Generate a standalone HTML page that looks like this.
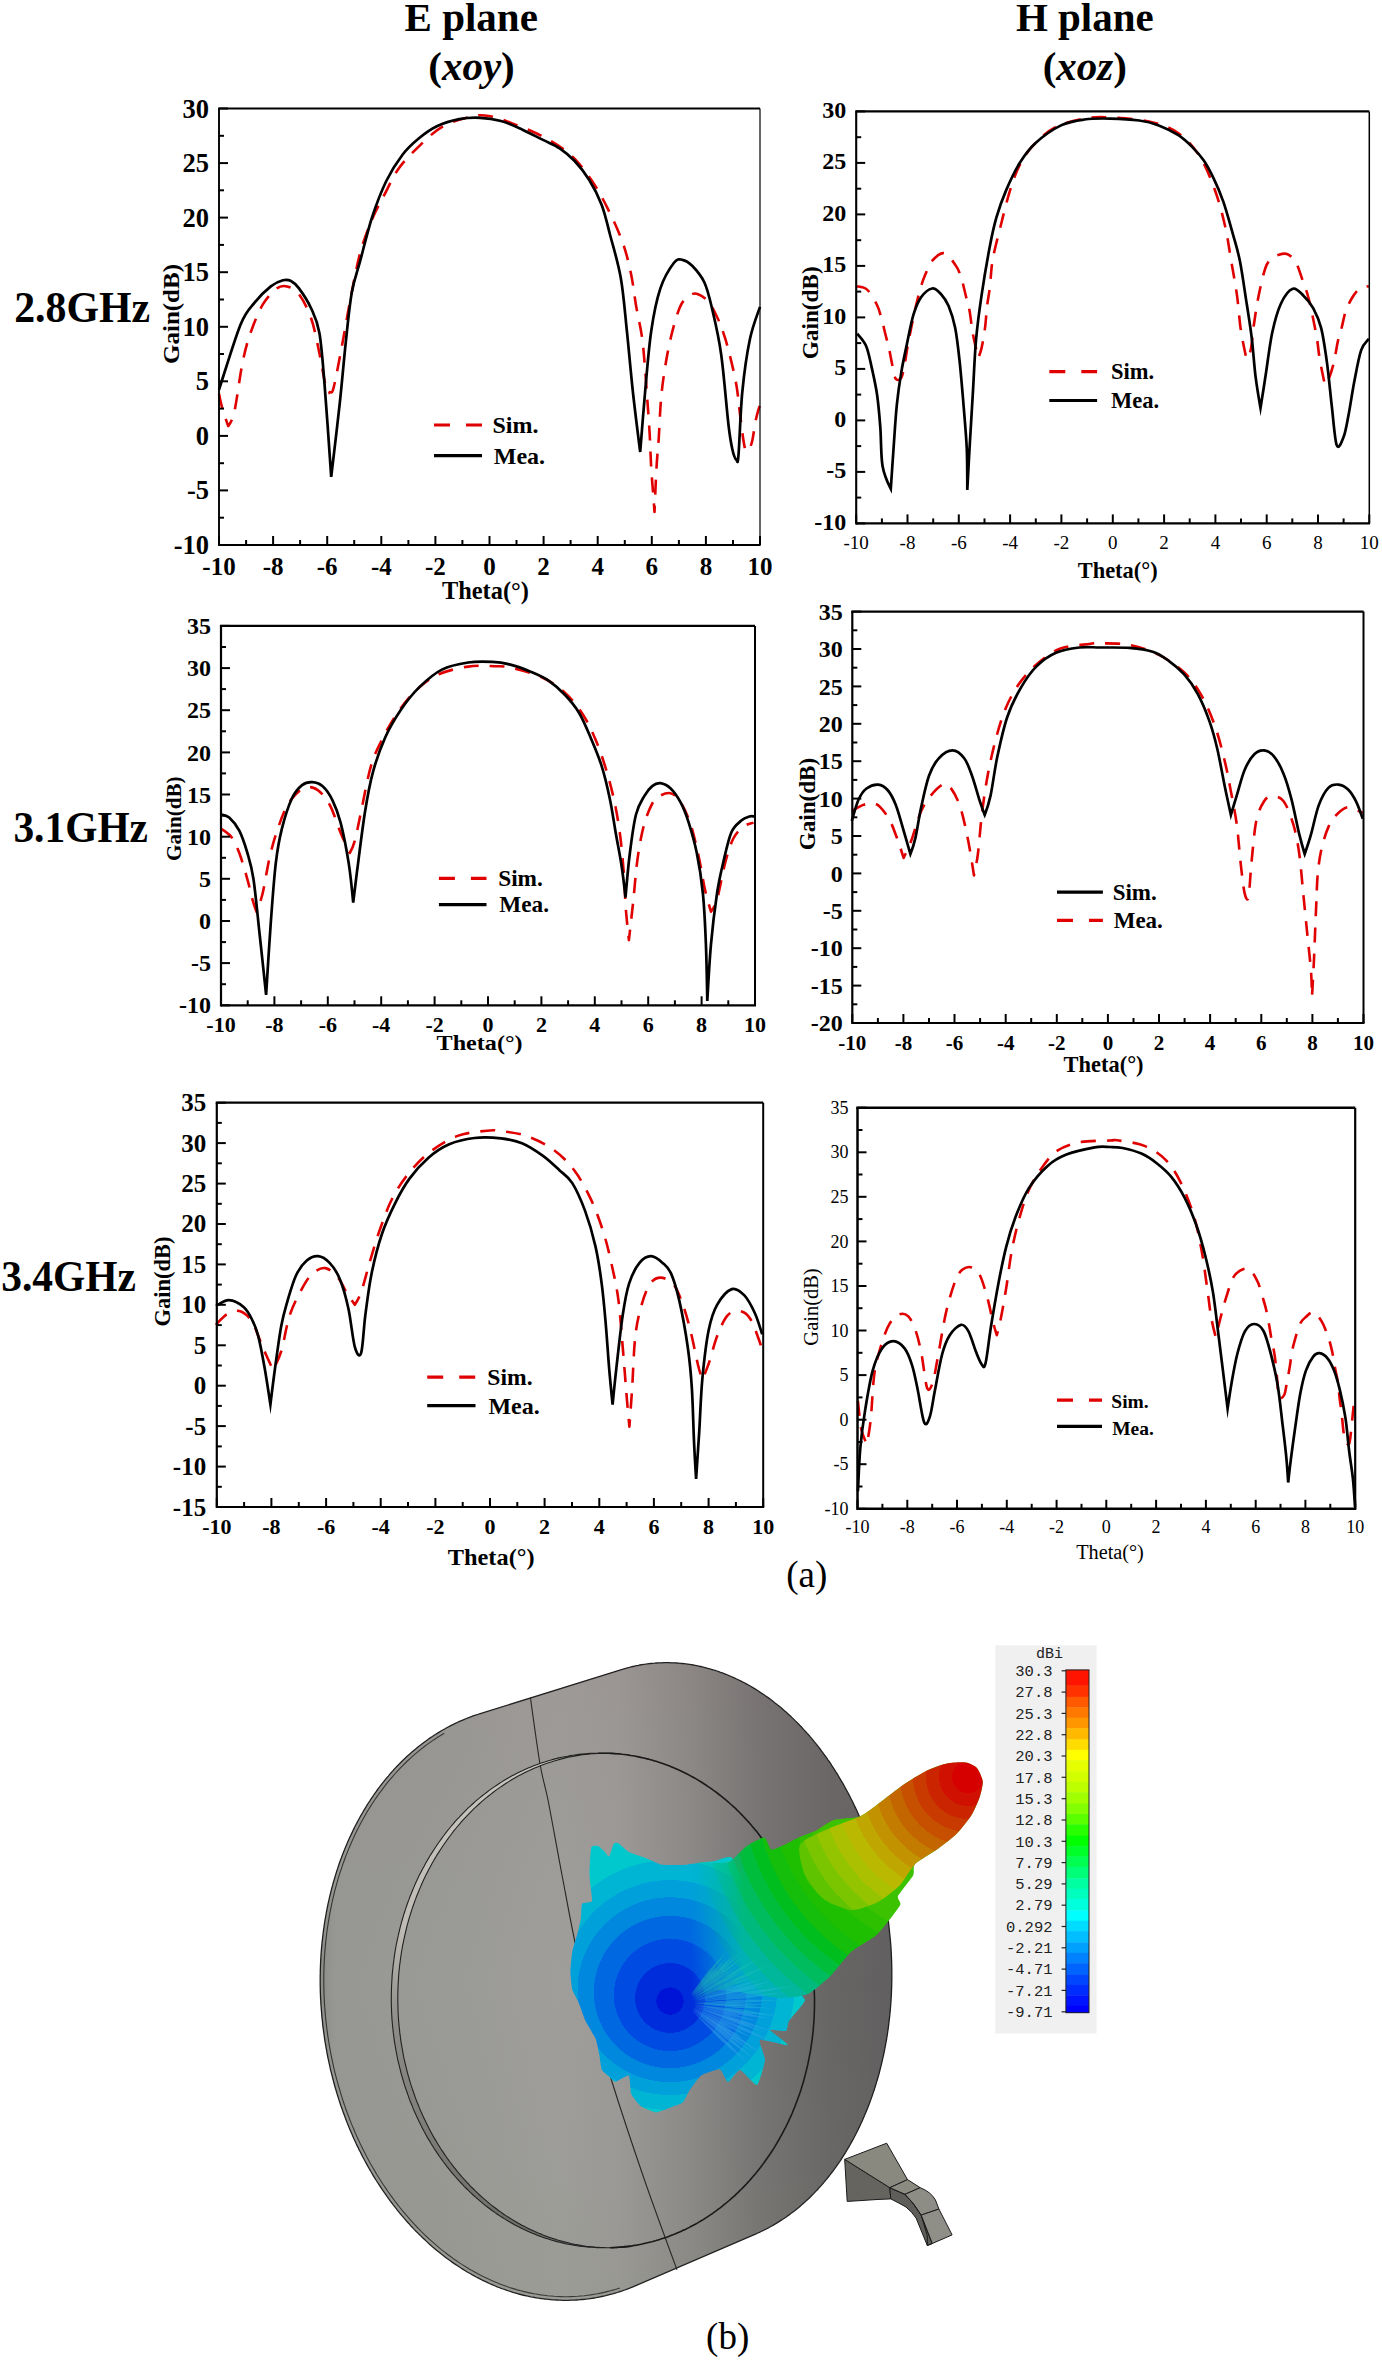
<!DOCTYPE html>
<html><head><meta charset="utf-8"><title>Gain patterns</title>
<style>html,body{margin:0;padding:0;background:#fff;overflow:hidden;}svg{display:block;}</style>
</head><body>
<svg width="1382" height="2361" viewBox="0 0 1382 2361">
<rect width="1382" height="2361" fill="#fff"/>
<text x="471.2" y="30.7" text-anchor="middle" font-family="'Liberation Serif', serif" font-weight="bold" font-size="41">E plane</text>
<text x="471.5" y="80" text-anchor="middle" font-family="'Liberation Serif', serif" font-weight="bold" font-size="41">(<tspan font-style="italic">xoy</tspan>)</text>
<text x="1084.8" y="30.7" text-anchor="middle" font-family="'Liberation Serif', serif" font-weight="bold" font-size="41">H plane</text>
<text x="1084.8" y="80" text-anchor="middle" font-family="'Liberation Serif', serif" font-weight="bold" font-size="41">(<tspan font-style="italic">xoz</tspan>)</text>
<text x="14.2" y="321.7" font-family="'Liberation Serif', serif" font-weight="bold" font-size="43.5" textLength="135.8" lengthAdjust="spacingAndGlyphs">2.8GHz</text>
<text x="13.4" y="841.5" font-family="'Liberation Serif', serif" font-weight="bold" font-size="43.5" textLength="134.6" lengthAdjust="spacingAndGlyphs">3.1GHz</text>
<text x="1.2" y="1291" font-family="'Liberation Serif', serif" font-weight="bold" font-size="43.5" textLength="134.7" lengthAdjust="spacingAndGlyphs">3.4GHz</text>
<text x="806.7" y="1586.7" text-anchor="middle" font-family="'Liberation Serif', serif" font-size="37">(a)</text>
<text x="727.7" y="2349.2" text-anchor="middle" font-family="'Liberation Serif', serif" font-size="37">(b)</text>
<path d="M219,393.8 C219.5,396.2 220.7,402.6 222.2,408 C223.7,413.4 228.2,426 228.2,426 C228.2,426 231.9,422.4 234.3,412 C236.7,401.6 239.7,376.6 242.4,363.4 C245.1,350.2 247.1,342.8 250.5,333 C253.9,323.2 258.3,312 262.7,304.6 C267.1,297.2 272.8,291.4 276.9,288.4 C280.9,285.4 283.3,285.4 287,286.4 C290.7,287.4 295.1,289.1 299.1,294.5 C303.2,299.9 307.9,309 311.3,318.8 C314.7,328.6 316.9,341.4 319.4,353.2 C321.9,365 324.7,383.2 326.5,389.7 C328.3,396.2 328.8,392.3 330,392 C331.2,391.7 331.7,395.2 333.6,387.7 C335.6,380.2 339,361.4 341.7,347.2 C344.4,333 346.8,318.1 349.8,302.6 C352.8,287.1 356.2,267.9 359.9,254 C363.6,240.2 367.9,229.3 372,219.5 C376.1,209.7 379.8,203.6 384.2,195.2 C388.6,186.8 392.6,177 398.4,168.9 C404.1,160.8 411.3,153.7 418.7,146.6 C426.1,139.5 433.9,131.4 443,126.3 C452.1,121.2 465.6,117.9 473.4,116.2 C481.2,114.5 483.6,115.1 490,116.2 C496.4,117.3 502.7,119.7 511.5,123.1 C520.3,126.5 533.2,131.4 543,136.7 C552.8,141.9 562.2,147.4 570.2,154.6 C578.2,161.8 584.9,170.6 591.2,179.7 C597.5,188.8 602.8,198.6 608,209.1 C613.2,219.6 618.9,231.8 622.7,242.7 C626.6,253.5 628.9,263.8 631.1,274.2 C633.3,284.6 634.2,294.8 636,305.3 C637.8,315.8 640.5,326.6 642,337.2 C643.5,347.8 644.2,358.6 645.1,369.2 C646,379.8 646.6,390.1 647.4,401 C648.2,411.9 649.1,423.4 649.7,434.5 C650.3,445.6 650.6,457.3 651.2,467.9 C651.8,478.5 653,490.9 653.5,498.3 C654,505.7 654.5,512 654.5,512 C654.5,512 655.8,480.3 656.5,467.9 C657.2,455.5 658,448.9 658.8,437.5 C659.5,426.1 660,411 661,399.6 C662,388.2 663.1,379.6 664.8,369.2 C666.4,358.8 668.4,347.6 670.9,337.2 C673.4,326.8 677,313.8 680,306.9 C683,300 686.3,298.1 689.2,296 C692.1,293.9 694.2,292.9 697.5,294 C700.8,295.1 705.5,298.1 708.9,302.3 C712.3,306.5 715.6,313.9 718,319 C720.4,324.1 721.5,327.4 723.3,332.7 C725.1,338 726.5,342.3 728.7,350.9 C730.9,359.5 734.4,373.8 736.3,384.4 C738.2,395 738.6,403.8 740.1,414.7 C741.6,425.6 743.5,444.9 745.4,449.7 C747.3,454.5 749.9,448.2 751.5,443.6 C753.1,439 754.2,427.9 755.3,422.3 C756.4,416.7 757.5,413.1 758.3,410.2 C759.1,407.3 759.7,405.9 760,405" fill="none" stroke="#e00000" stroke-width="2.6" stroke-dasharray="15 11" stroke-linejoin="round"/>
<path d="M219,389.7 C222.6,378.9 234.5,339.4 240.4,324.9 C246.3,310.4 249.5,309 254.6,302.6 C259.7,296.2 266.1,290.1 270.8,286.4 C275.5,282.7 279.5,281.2 282.9,280.3 C286.3,279.4 288.3,279.6 291,281 C293.7,282.4 295.6,283.8 299,288.4 C302.4,293 307.9,301.3 311.3,308.7 C314.7,316.1 317.2,320.5 319.4,333 C321.6,345.5 322.5,359.6 324.5,383.6 C326.5,407.6 331.2,476.8 331.2,476.8 C331.2,476.8 337.3,426.2 339.7,403.9 C342.1,381.6 343.7,361.6 345.7,343 C347.7,324.4 349.4,306 351.8,292.5 C354.2,279 356.5,274.5 359.9,262 C363.3,249.5 367.6,231 372,217.5 C376.4,204 381.2,191.5 386.3,181 C391.4,170.5 397.1,161.8 402.5,154.7 C407.9,147.6 413,143.2 418.7,138.5 C424.4,133.8 430.1,129.5 436.9,126.3 C443.6,123.1 452,120.6 459.2,119.2 C466.4,117.8 473,117.5 480,117.8 C487,118.1 494,119.1 501,121 C508,122.9 515,126.2 522,129.4 C529,132.6 536.7,136.8 543,139.9 C549.3,143.1 554.5,144.8 559.7,148.3 C564.9,151.8 569.5,155.6 574.4,160.8 C579.3,166 584.5,172.3 589.1,179.7 C593.7,187 598.2,195.7 601.7,204.9 C605.2,214.1 606.9,222.8 610.1,235 C613.3,247.2 618,262 620.8,278 C623.6,294 624.9,312.2 626.9,331.2 C628.9,350.2 630.7,371.9 632.9,392 C635.1,412.1 640.2,452 640.2,452 C640.2,452 643.3,412.1 645.1,392 C646.9,371.9 648.7,348.4 651.2,331.2 C653.7,314 656.5,300 660.3,288.6 C664.1,277.2 670.3,267.6 674,262.8 C677.7,258 679.3,259.3 682.3,259.8 C685.3,260.3 688.5,262 692.2,265.8 C695.9,269.6 701.1,275.4 704.4,282.5 C707.7,289.6 709.2,296.5 712,308.4 C714.8,320.3 718.4,334.6 721.1,354 C723.9,373.4 726.6,409 728.5,425 C730.4,441 731.2,444.2 732.5,450 C733.8,455.8 735.5,459.2 736.5,460 C737.5,460.8 737.5,466.3 738.5,455 C739.5,443.7 740.4,411.4 742.3,392 C744.2,372.6 747,353 750,338.8 C753,324.6 758.3,312.2 760,306.9" fill="none" stroke="#000" stroke-width="2.7" stroke-linejoin="miter" stroke-miterlimit="8"/>
<path d="M218.1,108.5 H760" stroke="#000" stroke-width="1.9"/>
<path d="M219,108.5 V546" stroke="#000" stroke-width="1.9"/>
<path d="M219,545 H760.6" stroke="#000" stroke-width="1.9"/>
<path d="M760,108.5 V545" stroke="#000" stroke-width="1.2"/>
<path d="M219,545 h9" stroke="#000" stroke-width="2"/>
<path d="M219,517.7 h5" stroke="#000" stroke-width="2"/>
<path d="M219,490.4 h9" stroke="#000" stroke-width="2"/>
<path d="M219,463.2 h5" stroke="#000" stroke-width="2"/>
<path d="M219,435.9 h9" stroke="#000" stroke-width="2"/>
<path d="M219,408.6 h5" stroke="#000" stroke-width="2"/>
<path d="M219,381.3 h9" stroke="#000" stroke-width="2"/>
<path d="M219,354 h5" stroke="#000" stroke-width="2"/>
<path d="M219,326.8 h9" stroke="#000" stroke-width="2"/>
<path d="M219,299.5 h5" stroke="#000" stroke-width="2"/>
<path d="M219,272.2 h9" stroke="#000" stroke-width="2"/>
<path d="M219,244.9 h5" stroke="#000" stroke-width="2"/>
<path d="M219,217.6 h9" stroke="#000" stroke-width="2"/>
<path d="M219,190.3 h5" stroke="#000" stroke-width="2"/>
<path d="M219,163.1 h9" stroke="#000" stroke-width="2"/>
<path d="M219,135.8 h5" stroke="#000" stroke-width="2"/>
<path d="M219,108.5 h9" stroke="#000" stroke-width="2"/>
<path d="M219,545 v-9" stroke="#000" stroke-width="2"/>
<path d="M246.1,545 v-5" stroke="#000" stroke-width="2"/>
<path d="M273.1,545 v-9" stroke="#000" stroke-width="2"/>
<path d="M300.1,545 v-5" stroke="#000" stroke-width="2"/>
<path d="M327.2,545 v-9" stroke="#000" stroke-width="2"/>
<path d="M354.2,545 v-5" stroke="#000" stroke-width="2"/>
<path d="M381.3,545 v-9" stroke="#000" stroke-width="2"/>
<path d="M408.4,545 v-5" stroke="#000" stroke-width="2"/>
<path d="M435.4,545 v-9" stroke="#000" stroke-width="2"/>
<path d="M462.4,545 v-5" stroke="#000" stroke-width="2"/>
<path d="M489.5,545 v-9" stroke="#000" stroke-width="2"/>
<path d="M516.5,545 v-5" stroke="#000" stroke-width="2"/>
<path d="M543.6,545 v-9" stroke="#000" stroke-width="2"/>
<path d="M570.6,545 v-5" stroke="#000" stroke-width="2"/>
<path d="M597.7,545 v-9" stroke="#000" stroke-width="2"/>
<path d="M624.8,545 v-5" stroke="#000" stroke-width="2"/>
<path d="M651.8,545 v-9" stroke="#000" stroke-width="2"/>
<path d="M678.9,545 v-5" stroke="#000" stroke-width="2"/>
<path d="M705.9,545 v-9" stroke="#000" stroke-width="2"/>
<path d="M733,545 v-5" stroke="#000" stroke-width="2"/>
<path d="M760,545 v-9" stroke="#000" stroke-width="2"/>
<text x="209" y="554" text-anchor="end" font-family="'Liberation Serif', serif" font-weight="bold" font-size="26.5">-10</text>
<text x="209" y="499.4" text-anchor="end" font-family="'Liberation Serif', serif" font-weight="bold" font-size="26.5">-5</text>
<text x="209" y="444.8" text-anchor="end" font-family="'Liberation Serif', serif" font-weight="bold" font-size="26.5">0</text>
<text x="209" y="390.3" text-anchor="end" font-family="'Liberation Serif', serif" font-weight="bold" font-size="26.5">5</text>
<text x="209" y="335.7" text-anchor="end" font-family="'Liberation Serif', serif" font-weight="bold" font-size="26.5">10</text>
<text x="209" y="281.1" text-anchor="end" font-family="'Liberation Serif', serif" font-weight="bold" font-size="26.5">15</text>
<text x="209" y="226.6" text-anchor="end" font-family="'Liberation Serif', serif" font-weight="bold" font-size="26.5">20</text>
<text x="209" y="172" text-anchor="end" font-family="'Liberation Serif', serif" font-weight="bold" font-size="26.5">25</text>
<text x="209" y="117.5" text-anchor="end" font-family="'Liberation Serif', serif" font-weight="bold" font-size="26.5">30</text>
<text x="219" y="574.5" text-anchor="middle" font-family="'Liberation Serif', serif" font-weight="bold" font-size="25">-10</text>
<text x="273.1" y="574.5" text-anchor="middle" font-family="'Liberation Serif', serif" font-weight="bold" font-size="25">-8</text>
<text x="327.2" y="574.5" text-anchor="middle" font-family="'Liberation Serif', serif" font-weight="bold" font-size="25">-6</text>
<text x="381.3" y="574.5" text-anchor="middle" font-family="'Liberation Serif', serif" font-weight="bold" font-size="25">-4</text>
<text x="435.4" y="574.5" text-anchor="middle" font-family="'Liberation Serif', serif" font-weight="bold" font-size="25">-2</text>
<text x="489.5" y="574.5" text-anchor="middle" font-family="'Liberation Serif', serif" font-weight="bold" font-size="25">0</text>
<text x="543.6" y="574.5" text-anchor="middle" font-family="'Liberation Serif', serif" font-weight="bold" font-size="25">2</text>
<text x="597.7" y="574.5" text-anchor="middle" font-family="'Liberation Serif', serif" font-weight="bold" font-size="25">4</text>
<text x="651.8" y="574.5" text-anchor="middle" font-family="'Liberation Serif', serif" font-weight="bold" font-size="25">6</text>
<text x="705.9" y="574.5" text-anchor="middle" font-family="'Liberation Serif', serif" font-weight="bold" font-size="25">8</text>
<text x="760" y="574.5" text-anchor="middle" font-family="'Liberation Serif', serif" font-weight="bold" font-size="25">10</text>
<text x="485.4" y="598.6" text-anchor="middle" font-family="'Liberation Serif', serif" font-weight="bold" font-size="25" textLength="87" lengthAdjust="spacingAndGlyphs">Theta(&#176;)</text>
<text transform="translate(179.2,314) rotate(-90)" text-anchor="middle" font-family="'Liberation Serif', serif" font-weight="bold" font-size="24" textLength="100" lengthAdjust="spacingAndGlyphs">Gain(dB)</text>
<path d="M434,425 H482" stroke="#e00000" stroke-width="3.2" stroke-dasharray="16 16"/>
<text x="492.5" y="432.9" font-family="'Liberation Serif', serif" font-weight="bold" font-size="24">Sim.</text>
<path d="M434,455.6 H482" stroke="#000" stroke-width="3.2"/>
<text x="493.8" y="463.5" font-family="'Liberation Serif', serif" font-weight="bold" font-size="24">Mea.</text>
<path d="M856.1,286.2 C857.9,286.8 863.6,286.5 867.1,289.6 C870.6,292.7 874.6,300.2 877,305 C879.4,309.8 879.9,313.1 881.4,318.2 C882.9,323.3 884.5,330.7 885.8,335.8 C887.1,340.9 888,344.1 889.1,349 C890.2,353.9 891.3,360.5 892.4,365.5 C893.5,370.5 894.2,376.8 895.7,378.8 C897.2,380.8 899.8,380.1 901.3,377.7 C902.8,375.3 903.5,369.9 904.6,364.4 C905.7,358.9 906.6,351.6 907.9,344.6 C909.2,337.6 910.8,329.6 912.3,322.6 C913.8,315.6 915.2,308.9 916.7,302.8 C918.2,296.7 919.6,291 921.1,286.2 C922.6,281.4 923.7,278.3 925.5,274.1 C927.3,269.9 929,264.4 932.1,260.9 C935.2,257.4 940.2,252.3 944.2,253.2 C948.2,254.1 953.4,262 956.3,266.4 C959.2,270.8 960.1,274.5 961.8,279.6 C963.4,284.8 964.9,292.2 966.2,297.3 C967.5,302.4 968.6,305.7 969.5,310.5 C970.4,315.3 971,321.1 971.7,325.9 C972.4,330.7 972.8,333.8 973.9,339.1 C975,344.4 978.3,357.8 978.3,357.8 C978.3,357.8 980.5,352.8 981.6,347.9 C982.7,342.9 984.1,335.1 985,328.1 C985.9,321.1 986.3,313.1 987.1,306.1 C987.9,299.1 989.1,293.9 990,286.2 C990.9,278.5 990.9,270.1 992.6,260.2 C994.3,250.3 997.5,238.7 1000.4,227 C1003.3,215.3 1006.9,200.3 1010.2,189.9 C1013.5,179.5 1016.1,172 1020,164.5 C1023.9,157 1027.8,151.1 1033.6,144.9 C1039.4,138.7 1046.6,131.8 1055.1,127.4 C1063.6,123 1075.2,120.3 1084.4,118.6 C1093.6,116.9 1099.2,116.9 1110,117.4 C1120.8,117.9 1137.6,118.9 1149,121.5 C1160.4,124.1 1169.9,127.3 1178.4,133.2 C1186.9,139.1 1193.7,146.9 1199.9,156.7 C1206.1,166.5 1211.3,180.1 1215.5,191.8 C1219.7,203.5 1222.7,215.6 1225.3,227 C1227.9,238.4 1229.1,248.8 1231.1,260.2 C1233,271.6 1235.4,283.7 1237,295.4 C1238.6,307.1 1239.3,319.9 1240.9,330.5 C1242.5,341.1 1246.5,359 1246.5,359 C1246.5,359 1249.5,355.5 1250.7,350 C1251.9,344.5 1252.4,335 1253.7,326 C1255,317 1256.6,305.7 1258.6,296 C1260.5,286.3 1263.3,274.2 1265.4,268 C1267.5,261.8 1269.2,261.2 1271.3,259 C1273.4,256.8 1275.4,255.8 1278,255 C1280.6,254.2 1284,252.8 1287,254 C1290,255.2 1293.1,257.7 1295.7,262 C1298.3,266.3 1300.5,274.7 1302.5,280 C1304.5,285.3 1305.9,289 1307.4,294 C1308.9,299 1310.2,305 1311.3,310 C1312.4,315 1313.2,319 1314.2,324 C1315.2,329 1316.4,334.8 1317.2,340 C1318,345.2 1318.3,349.8 1319.1,355 C1319.9,360.2 1320.9,366 1322,371 C1323.1,376 1324.3,383.8 1325.5,385 C1326.7,386.2 1328,380.5 1329,378 C1330,375.5 1330.8,373.3 1331.8,370 C1332.8,366.7 1333.8,362.7 1334.8,358 C1335.8,353.3 1336.6,347 1337.7,342 C1338.8,337 1340.3,333 1341.6,328 C1342.9,323 1343.9,316.8 1345.5,312 C1347.1,307.2 1349.3,302.7 1351.4,299 C1353.5,295.3 1355.7,292.1 1358,290 C1360.3,287.9 1363.2,287.1 1365,286.5 C1366.8,285.9 1368.2,286.5 1368.9,286.5" fill="none" stroke="#e00000" stroke-width="2.6" stroke-dasharray="15 11" stroke-linejoin="round"/>
<path d="M857.2,333.6 C858.7,335.6 863.6,340.2 866,345.7 C868.4,351.2 869.7,358.5 871.5,366.6 C873.3,374.7 875.5,384.1 877,394.2 C878.5,404.3 879.4,415.3 880.3,427.2 C881.2,439.1 880.8,455.4 882.5,465.7 C884.2,476 890.8,488.9 890.8,488.9 C890.8,488.9 892.5,463.1 893.5,449.2 C894.5,435.2 895.5,418 896.8,405.2 C898.1,392.4 899.6,382.2 901.3,372.1 C903,362 904.8,354.1 906.8,344.6 C908.8,335.1 911,322.8 913.4,314.9 C915.8,307 918,301.7 921.1,297.3 C924.2,292.9 928.8,289.1 932.1,288.5 C935.4,287.9 938.1,291.1 940.9,294 C943.6,296.9 946.2,300.4 948.6,306.1 C951,311.8 953.4,318.9 955.2,328.1 C957,337.3 958.1,347.3 959.6,361.1 C961.1,374.9 962.8,396 964,410.7 C965.2,425.4 966.2,436 966.8,449.2 C967.3,462.4 967.3,490 967.3,490 C967.3,490 968.6,465.2 969.5,449.2 C970.4,433.2 971.7,412.5 972.8,394.2 C973.9,375.9 974.6,355.6 976.1,339.1 C977.6,322.6 979.3,310.7 981.6,295.1 C983.9,279.5 987.5,258.5 990,245.5 C992.5,232.5 993.8,226.5 996.5,217.2 C999.2,207.9 1002.4,199 1006.3,189.9 C1010.2,180.8 1015.1,170.3 1020,162.5 C1024.9,154.7 1028.8,149.2 1035.6,143 C1042.4,136.8 1052.9,129.3 1061,125.4 C1069.1,121.5 1076.2,120.6 1084.4,119.5 C1092.6,118.4 1100.8,118.4 1110,118.6 C1119.2,118.8 1131.2,119.4 1139.3,120.5 C1147.4,121.6 1152.3,123 1158.8,125.4 C1165.3,127.9 1172.9,131.6 1178.4,135.2 C1184,138.8 1187.9,142.7 1192.1,146.9 C1196.3,151.1 1200.2,155.4 1203.8,160.6 C1207.4,165.8 1210.2,171.3 1213.5,178.1 C1216.8,184.9 1220,192.1 1223.3,201.6 C1226.6,211.1 1230.3,224.8 1233.1,234.8 C1235.9,244.8 1237.9,250.9 1240,261.5 C1242.1,272.1 1244,285.9 1245.9,298.6 C1247.9,311.3 1250.1,324.7 1251.7,337.7 C1253.3,350.7 1254.1,365.1 1255.6,376.8 C1257.1,388.5 1260.5,408 1260.5,408 C1260.5,408 1263.5,389.3 1265.4,376.8 C1267.4,364.3 1269.6,345 1272.2,332.8 C1274.8,320.6 1277.6,310.8 1281,303.5 C1284.4,296.2 1289,290.1 1292.8,288.8 C1296.5,287.5 1300.1,292.4 1303.5,295.7 C1306.9,299 1310.4,303 1313.3,308.4 C1316.2,313.8 1318.8,318.9 1321.1,327.9 C1323.4,336.8 1325.1,349.1 1326.9,362.1 C1328.7,375.1 1330.2,392.3 1331.8,406.1 C1333.4,419.9 1334.8,439.9 1336.7,445.1 C1338.7,450.3 1341.5,442.2 1343.5,437.3 C1345.5,432.4 1346.6,425.1 1348.4,415.8 C1350.2,406.5 1352.2,392.5 1354.3,381.6 C1356.4,370.7 1358.7,357.5 1361.1,350.4 C1363.5,343.2 1367.6,340.6 1368.9,338.7" fill="none" stroke="#000" stroke-width="2.7" stroke-linejoin="miter" stroke-miterlimit="8"/>
<path d="M855.2,111.4 H1369.3" stroke="#000" stroke-width="2.1"/>
<path d="M856.2,111.4 V524.4" stroke="#000" stroke-width="2.1"/>
<path d="M856.2,523.4 H1370" stroke="#000" stroke-width="2.1"/>
<path d="M1369.3,111.4 V523.4" stroke="#000" stroke-width="1.5"/>
<path d="M856.2,523.4 h9" stroke="#000" stroke-width="2"/>
<path d="M856.2,497.6 h5" stroke="#000" stroke-width="2"/>
<path d="M856.2,471.9 h9" stroke="#000" stroke-width="2"/>
<path d="M856.2,446.1 h5" stroke="#000" stroke-width="2"/>
<path d="M856.2,420.4 h9" stroke="#000" stroke-width="2"/>
<path d="M856.2,394.6 h5" stroke="#000" stroke-width="2"/>
<path d="M856.2,368.9 h9" stroke="#000" stroke-width="2"/>
<path d="M856.2,343.1 h5" stroke="#000" stroke-width="2"/>
<path d="M856.2,317.4 h9" stroke="#000" stroke-width="2"/>
<path d="M856.2,291.6 h5" stroke="#000" stroke-width="2"/>
<path d="M856.2,265.9 h9" stroke="#000" stroke-width="2"/>
<path d="M856.2,240.2 h5" stroke="#000" stroke-width="2"/>
<path d="M856.2,214.4 h9" stroke="#000" stroke-width="2"/>
<path d="M856.2,188.7 h5" stroke="#000" stroke-width="2"/>
<path d="M856.2,162.9 h9" stroke="#000" stroke-width="2"/>
<path d="M856.2,137.2 h5" stroke="#000" stroke-width="2"/>
<path d="M856.2,111.4 h9" stroke="#000" stroke-width="2"/>
<path d="M856.2,523.4 v-9" stroke="#000" stroke-width="2"/>
<path d="M881.9,523.4 v-5" stroke="#000" stroke-width="2"/>
<path d="M907.5,523.4 v-9" stroke="#000" stroke-width="2"/>
<path d="M933.2,523.4 v-5" stroke="#000" stroke-width="2"/>
<path d="M958.8,523.4 v-9" stroke="#000" stroke-width="2"/>
<path d="M984.5,523.4 v-5" stroke="#000" stroke-width="2"/>
<path d="M1010.1,523.4 v-9" stroke="#000" stroke-width="2"/>
<path d="M1035.8,523.4 v-5" stroke="#000" stroke-width="2"/>
<path d="M1061.4,523.4 v-9" stroke="#000" stroke-width="2"/>
<path d="M1087.1,523.4 v-5" stroke="#000" stroke-width="2"/>
<path d="M1112.8,523.4 v-9" stroke="#000" stroke-width="2"/>
<path d="M1138.4,523.4 v-5" stroke="#000" stroke-width="2"/>
<path d="M1164.1,523.4 v-9" stroke="#000" stroke-width="2"/>
<path d="M1189.7,523.4 v-5" stroke="#000" stroke-width="2"/>
<path d="M1215.4,523.4 v-9" stroke="#000" stroke-width="2"/>
<path d="M1241,523.4 v-5" stroke="#000" stroke-width="2"/>
<path d="M1266.7,523.4 v-9" stroke="#000" stroke-width="2"/>
<path d="M1292.3,523.4 v-5" stroke="#000" stroke-width="2"/>
<path d="M1318,523.4 v-9" stroke="#000" stroke-width="2"/>
<path d="M1343.6,523.4 v-5" stroke="#000" stroke-width="2"/>
<path d="M1369.3,523.4 v-9" stroke="#000" stroke-width="2"/>
<text x="846.2" y="529.9" text-anchor="end" font-family="'Liberation Serif', serif" font-weight="bold" font-size="24">-10</text>
<text x="846.2" y="478.4" text-anchor="end" font-family="'Liberation Serif', serif" font-weight="bold" font-size="24">-5</text>
<text x="846.2" y="426.9" text-anchor="end" font-family="'Liberation Serif', serif" font-weight="bold" font-size="24">0</text>
<text x="846.2" y="375.4" text-anchor="end" font-family="'Liberation Serif', serif" font-weight="bold" font-size="24">5</text>
<text x="846.2" y="323.9" text-anchor="end" font-family="'Liberation Serif', serif" font-weight="bold" font-size="24">10</text>
<text x="846.2" y="272.4" text-anchor="end" font-family="'Liberation Serif', serif" font-weight="bold" font-size="24">15</text>
<text x="846.2" y="220.9" text-anchor="end" font-family="'Liberation Serif', serif" font-weight="bold" font-size="24">20</text>
<text x="846.2" y="169.4" text-anchor="end" font-family="'Liberation Serif', serif" font-weight="bold" font-size="24">25</text>
<text x="846.2" y="117.9" text-anchor="end" font-family="'Liberation Serif', serif" font-weight="bold" font-size="24">30</text>
<text x="856.2" y="548.8" text-anchor="middle" font-family="'Liberation Serif', serif" font-weight="normal" font-size="19">-10</text>
<text x="907.5" y="548.8" text-anchor="middle" font-family="'Liberation Serif', serif" font-weight="normal" font-size="19">-8</text>
<text x="958.8" y="548.8" text-anchor="middle" font-family="'Liberation Serif', serif" font-weight="normal" font-size="19">-6</text>
<text x="1010.1" y="548.8" text-anchor="middle" font-family="'Liberation Serif', serif" font-weight="normal" font-size="19">-4</text>
<text x="1061.4" y="548.8" text-anchor="middle" font-family="'Liberation Serif', serif" font-weight="normal" font-size="19">-2</text>
<text x="1112.8" y="548.8" text-anchor="middle" font-family="'Liberation Serif', serif" font-weight="normal" font-size="19">0</text>
<text x="1164.1" y="548.8" text-anchor="middle" font-family="'Liberation Serif', serif" font-weight="normal" font-size="19">2</text>
<text x="1215.4" y="548.8" text-anchor="middle" font-family="'Liberation Serif', serif" font-weight="normal" font-size="19">4</text>
<text x="1266.7" y="548.8" text-anchor="middle" font-family="'Liberation Serif', serif" font-weight="normal" font-size="19">6</text>
<text x="1318" y="548.8" text-anchor="middle" font-family="'Liberation Serif', serif" font-weight="normal" font-size="19">8</text>
<text x="1369.3" y="548.8" text-anchor="middle" font-family="'Liberation Serif', serif" font-weight="normal" font-size="19">10</text>
<text x="1117.7" y="578" text-anchor="middle" font-family="'Liberation Serif', serif" font-weight="bold" font-size="22.5" textLength="80" lengthAdjust="spacingAndGlyphs">Theta(&#176;)</text>
<text transform="translate(817.9,312.8) rotate(-90)" text-anchor="middle" font-family="'Liberation Serif', serif" font-weight="bold" font-size="23" textLength="92.8" lengthAdjust="spacingAndGlyphs">Gain(dB)</text>
<path d="M1049.3,371.6 H1097.1" stroke="#e00000" stroke-width="3.2" stroke-dasharray="16 16"/>
<text x="1111" y="379" font-family="'Liberation Serif', serif" font-weight="bold" font-size="22.5">Sim.</text>
<path d="M1049.3,400.5 H1097.1" stroke="#000" stroke-width="3.2"/>
<text x="1111" y="407.9" font-family="'Liberation Serif', serif" font-weight="bold" font-size="22.5">Mea.</text>
<path d="M221.1,828.7 C222.8,830.1 228.2,832.8 231.2,836.8 C234.2,840.8 236.6,845.9 239.3,853 C242,860.1 245.2,871.5 247.4,879.3 C249.6,887.1 251,894.2 252.5,899.6 C254,905 256.5,911.7 256.5,911.7 C256.5,911.7 260.4,902.6 262.6,893.5 C264.8,884.4 267.2,867.8 269.7,857 C272.2,846.2 274.8,837.5 277.8,828.7 C280.8,819.9 284.2,810.8 287.9,804.4 C291.6,798 296.4,793.1 300.1,790.2 C303.8,787.3 306.8,786.8 310.2,787.1 C313.6,787.4 316.9,789 320.3,792.2 C323.7,795.4 327.1,799.6 330.5,806.4 C333.9,813.1 337.4,824.9 340.6,832.7 C343.8,840.5 349.7,853 349.7,853 C349.7,853 352.9,847.5 354.8,840.8 C356.7,834 358.2,825 360.9,812.5 C363.6,800 367.3,778.4 371,765.9 C374.7,753.4 378.8,746.3 383.2,737.5 C387.6,728.7 391.9,721 397.3,713.2 C402.7,705.4 408.9,697.3 415.6,690.9 C422.4,684.5 429,678.8 437.8,674.7 C446.6,670.7 458.7,668 468.2,666.6 C477.7,665.2 488,666 495,666.2 C502,666.4 502.8,665.9 510.4,667.6 C518,669.4 531.7,672.5 540.8,676.7 C549.9,680.9 558,686.5 565.1,692.9 C572.2,699.3 578.2,707.4 583.3,715.2 C588.4,723 591.8,730.7 595.5,739.5 C599.2,748.3 602.6,758.1 605.6,767.9 C608.6,777.7 611.3,787.5 613.7,798.3 C616.1,809.1 618.1,820.2 619.8,832.7 C621.5,845.2 622.8,860.4 623.8,873.2 C624.8,886 625,898.6 625.9,909.7 C626.8,920.9 628.9,940.1 628.9,940.1 C628.9,940.1 631.6,916.4 633,903.6 C634.4,890.8 635.5,874.9 637,863.1 C638.5,851.3 640.2,841.1 642.1,832.7 C644,824.3 645.8,818.2 648.2,812.5 C650.6,806.8 652.6,801.5 656.3,798.3 C660,795.1 666.3,792.5 670.4,793.2 C674.5,793.9 677.2,797.1 680.6,802.3 C684,807.5 687.7,815.5 690.7,824.6 C693.7,833.7 696.4,846.2 698.8,857 C701.2,867.8 702.9,880.3 704.9,889.4 C706.9,898.5 711,911.7 711,911.7 C711,911.7 714.6,907.7 717,899.6 C719.4,891.5 722.4,873.2 725.1,863.1 C727.8,853 730.2,844.9 733.2,838.8 C736.2,832.7 740,829.3 743.4,826.6 C746.8,823.9 751.8,823.3 753.5,822.6" fill="none" stroke="#e00000" stroke-width="2.6" stroke-dasharray="15 11" stroke-linejoin="round"/>
<path d="M221.1,814.5 C222.4,815 226.2,814.8 229.2,817.5 C232.2,820.2 236.3,824.8 239.3,830.7 C242.3,836.6 245,844.9 247.4,853 C249.8,861.1 251.5,865.8 253.5,879.3 C255.5,892.8 257.5,914.8 259.6,934 C261.7,953.2 266.1,994.8 266.1,994.8 C266.1,994.8 269.1,945.8 270.7,923.9 C272.3,902 273.9,879 275.8,863.1 C277.7,847.2 279.2,839.5 281.9,828.7 C284.6,817.9 288.6,805.6 292,798.3 C295.4,791 298.7,787.8 302.1,785.1 C305.5,782.4 308.8,781.9 312.2,782.1 C315.6,782.3 319,783.1 322.4,786.1 C325.8,789.1 329.5,794.2 332.5,800.3 C335.5,806.4 337.9,812.1 340.6,822.6 C343.3,833.1 346.6,849.8 348.7,863.1 C350.8,876.4 353.2,902.6 353.2,902.6 C353.2,902.6 354.9,888.2 356.8,873.2 C358.8,858.2 362.2,829.4 364.9,812.5 C367.6,795.6 369.6,784.4 373,771.9 C376.4,759.4 380.5,748 385.2,737.5 C389.9,727 395.7,717.5 401.4,709.1 C407.1,700.7 412.9,693.5 419.6,686.9 C426.4,680.3 433.8,673.7 441.9,669.6 C450,665.5 459.8,663.8 468.2,662.5 C476.6,661.2 485.2,661.5 492.2,661.9 C499.2,662.2 504,663 510.4,664.6 C516.8,666.2 524.2,669 530.6,671.7 C537,674.4 543.1,676.9 548.9,680.8 C554.6,684.7 560,689.6 565.1,695 C570.2,700.4 574.9,705.8 579.3,713.2 C583.7,720.6 587.7,730.7 591.4,739.5 C595.1,748.3 598.5,756.1 601.6,765.9 C604.7,775.7 607.4,787.2 609.7,798.3 C612.1,809.4 613.7,821.2 615.7,832.7 C617.7,844.2 620.2,856.4 621.8,867.2 C623.4,878 625.5,897.5 625.5,897.5 C625.5,897.5 628.1,866.8 629.9,853 C631.6,839.2 633.6,824 636,814.5 C638.4,805 641.4,801 644.1,796.3 C646.8,791.6 649.5,788.3 652.2,786.1 C654.9,783.9 657.3,782.8 660.3,783.1 C663.3,783.5 667,785 670.4,788.2 C673.8,791.4 677.5,796.6 680.6,802.3 C683.7,808 686,814.1 688.7,822.6 C691.4,831.1 694.4,841.2 696.8,853 C699.2,864.8 701.4,878.3 702.9,893.5 C704.4,908.7 705.2,926.2 705.9,944.1 C706.6,962 707.3,1000.9 707.3,1000.9 C707.3,1000.9 709.4,962 711,944.1 C712.6,926.2 715,907 717,893.5 C719,880 720.7,873.2 723.1,863.1 C725.5,853 728.2,839.8 731.2,832.7 C734.2,825.6 738.3,823.3 741.3,820.6 C744.3,817.9 747.2,817.2 749.4,816.5 C751.6,815.8 753.6,816.5 754.5,816.5" fill="none" stroke="#000" stroke-width="2.7" stroke-linejoin="miter" stroke-miterlimit="8"/>
<path d="M219.9,625.9 H755" stroke="#000" stroke-width="2.2"/>
<path d="M221,625.9 V1006.4" stroke="#000" stroke-width="2.2"/>
<path d="M221,1005.3 H756" stroke="#000" stroke-width="2.2"/>
<path d="M755,625.9 V1005.3" stroke="#000" stroke-width="2"/>
<path d="M221,1005.3 h9" stroke="#000" stroke-width="2"/>
<path d="M221,984.2 h5" stroke="#000" stroke-width="2"/>
<path d="M221,963.1 h9" stroke="#000" stroke-width="2"/>
<path d="M221,942.1 h5" stroke="#000" stroke-width="2"/>
<path d="M221,921 h9" stroke="#000" stroke-width="2"/>
<path d="M221,899.9 h5" stroke="#000" stroke-width="2"/>
<path d="M221,878.8 h9" stroke="#000" stroke-width="2"/>
<path d="M221,857.8 h5" stroke="#000" stroke-width="2"/>
<path d="M221,836.7 h9" stroke="#000" stroke-width="2"/>
<path d="M221,815.6 h5" stroke="#000" stroke-width="2"/>
<path d="M221,794.5 h9" stroke="#000" stroke-width="2"/>
<path d="M221,773.4 h5" stroke="#000" stroke-width="2"/>
<path d="M221,752.4 h9" stroke="#000" stroke-width="2"/>
<path d="M221,731.3 h5" stroke="#000" stroke-width="2"/>
<path d="M221,710.2 h9" stroke="#000" stroke-width="2"/>
<path d="M221,689.1 h5" stroke="#000" stroke-width="2"/>
<path d="M221,668.1 h9" stroke="#000" stroke-width="2"/>
<path d="M221,647 h5" stroke="#000" stroke-width="2"/>
<path d="M221,625.9 h9" stroke="#000" stroke-width="2"/>
<path d="M221,1005.3 v-9" stroke="#000" stroke-width="2"/>
<path d="M247.7,1005.3 v-5" stroke="#000" stroke-width="2"/>
<path d="M274.4,1005.3 v-9" stroke="#000" stroke-width="2"/>
<path d="M301.1,1005.3 v-5" stroke="#000" stroke-width="2"/>
<path d="M327.8,1005.3 v-9" stroke="#000" stroke-width="2"/>
<path d="M354.5,1005.3 v-5" stroke="#000" stroke-width="2"/>
<path d="M381.2,1005.3 v-9" stroke="#000" stroke-width="2"/>
<path d="M407.9,1005.3 v-5" stroke="#000" stroke-width="2"/>
<path d="M434.6,1005.3 v-9" stroke="#000" stroke-width="2"/>
<path d="M461.3,1005.3 v-5" stroke="#000" stroke-width="2"/>
<path d="M488,1005.3 v-9" stroke="#000" stroke-width="2"/>
<path d="M514.7,1005.3 v-5" stroke="#000" stroke-width="2"/>
<path d="M541.4,1005.3 v-9" stroke="#000" stroke-width="2"/>
<path d="M568.1,1005.3 v-5" stroke="#000" stroke-width="2"/>
<path d="M594.8,1005.3 v-9" stroke="#000" stroke-width="2"/>
<path d="M621.5,1005.3 v-5" stroke="#000" stroke-width="2"/>
<path d="M648.2,1005.3 v-9" stroke="#000" stroke-width="2"/>
<path d="M674.9,1005.3 v-5" stroke="#000" stroke-width="2"/>
<path d="M701.6,1005.3 v-9" stroke="#000" stroke-width="2"/>
<path d="M728.3,1005.3 v-5" stroke="#000" stroke-width="2"/>
<path d="M755,1005.3 v-9" stroke="#000" stroke-width="2"/>
<text x="211" y="1013.4" text-anchor="end" font-family="'Liberation Serif', serif" font-weight="bold" font-size="24">-10</text>
<text x="211" y="971.3" text-anchor="end" font-family="'Liberation Serif', serif" font-weight="bold" font-size="24">-5</text>
<text x="211" y="929.1" text-anchor="end" font-family="'Liberation Serif', serif" font-weight="bold" font-size="24">0</text>
<text x="211" y="886.9" text-anchor="end" font-family="'Liberation Serif', serif" font-weight="bold" font-size="24">5</text>
<text x="211" y="844.8" text-anchor="end" font-family="'Liberation Serif', serif" font-weight="bold" font-size="24">10</text>
<text x="211" y="802.6" text-anchor="end" font-family="'Liberation Serif', serif" font-weight="bold" font-size="24">15</text>
<text x="211" y="760.5" text-anchor="end" font-family="'Liberation Serif', serif" font-weight="bold" font-size="24">20</text>
<text x="211" y="718.3" text-anchor="end" font-family="'Liberation Serif', serif" font-weight="bold" font-size="24">25</text>
<text x="211" y="676.2" text-anchor="end" font-family="'Liberation Serif', serif" font-weight="bold" font-size="24">30</text>
<text x="211" y="634" text-anchor="end" font-family="'Liberation Serif', serif" font-weight="bold" font-size="24">35</text>
<text x="221" y="1031.7" text-anchor="middle" font-family="'Liberation Serif', serif" font-weight="bold" font-size="22">-10</text>
<text x="274.4" y="1031.7" text-anchor="middle" font-family="'Liberation Serif', serif" font-weight="bold" font-size="22">-8</text>
<text x="327.8" y="1031.7" text-anchor="middle" font-family="'Liberation Serif', serif" font-weight="bold" font-size="22">-6</text>
<text x="381.2" y="1031.7" text-anchor="middle" font-family="'Liberation Serif', serif" font-weight="bold" font-size="22">-4</text>
<text x="434.6" y="1031.7" text-anchor="middle" font-family="'Liberation Serif', serif" font-weight="bold" font-size="22">-2</text>
<text x="488" y="1031.7" text-anchor="middle" font-family="'Liberation Serif', serif" font-weight="bold" font-size="22">0</text>
<text x="541.4" y="1031.7" text-anchor="middle" font-family="'Liberation Serif', serif" font-weight="bold" font-size="22">2</text>
<text x="594.8" y="1031.7" text-anchor="middle" font-family="'Liberation Serif', serif" font-weight="bold" font-size="22">4</text>
<text x="648.2" y="1031.7" text-anchor="middle" font-family="'Liberation Serif', serif" font-weight="bold" font-size="22">6</text>
<text x="701.6" y="1031.7" text-anchor="middle" font-family="'Liberation Serif', serif" font-weight="bold" font-size="22">8</text>
<text x="755" y="1031.7" text-anchor="middle" font-family="'Liberation Serif', serif" font-weight="bold" font-size="22">10</text>
<text x="479.6" y="1050.3" text-anchor="middle" font-family="'Liberation Serif', serif" font-weight="bold" font-size="22" textLength="86" lengthAdjust="spacingAndGlyphs">Theta(&#176;)</text>
<text transform="translate(181,818.7) rotate(-90)" text-anchor="middle" font-family="'Liberation Serif', serif" font-weight="bold" font-size="21" textLength="84.5" lengthAdjust="spacingAndGlyphs">Gain(dB)</text>
<path d="M438.9,878.3 H486.5" stroke="#e00000" stroke-width="3.2" stroke-dasharray="16 16"/>
<text x="498.2" y="886" font-family="'Liberation Serif', serif" font-weight="bold" font-size="23.3">Sim.</text>
<path d="M438.9,904.6 H486.5" stroke="#000" stroke-width="3.2"/>
<text x="499.2" y="912.3" font-family="'Liberation Serif', serif" font-weight="bold" font-size="23.3">Mea.</text>
<path d="M851.8,811 C853.6,810 859.2,806.4 862.6,805.1 C866,803.8 869.5,802.9 872.4,803.2 C875.3,803.5 877.3,804.2 880.2,807.1 C883.1,810 887.1,815.3 890,820.8 C892.9,826.3 895.5,834.1 897.8,840.3 C900.1,846.5 903.6,857.9 903.6,857.9 C903.6,857.9 908.5,848.1 911.4,840.3 C914.3,832.5 917.9,818.5 921.2,811 C924.5,803.5 927.4,799.8 931,795.4 C934.6,791 939.5,785.9 942.7,784.6 C946,783.3 947.6,783.9 950.5,787.6 C953.4,791.4 957.4,798.3 960.3,807.1 C963.2,815.9 965.8,828.9 968.1,840.3 C970.4,851.7 974,875.5 974,875.5 C974,875.5 976.6,864.1 977.9,854 C979.2,843.9 980.2,827.9 981.8,814.9 C983.4,801.9 985.3,788.2 987.6,775.8 C989.9,763.4 992.5,751.8 995.4,740.7 C998.3,729.6 1001.3,718.9 1005.2,709.4 C1009.1,699.9 1013.7,691.5 1018.9,684 C1024.1,676.5 1029.7,670.4 1036.5,664.5 C1043.3,658.6 1051.1,652.2 1059.9,648.8 C1068.7,645.4 1082.5,644.9 1089.2,644 C1095.9,643.1 1093.3,643.2 1100,643.4 C1106.7,643.5 1119.5,643 1129.3,644.9 C1139.1,646.8 1149.5,650.1 1158.6,654.7 C1167.7,659.3 1176.8,665.5 1184,672.3 C1191.2,679.1 1196.4,686.6 1201.6,695.7 C1206.8,704.8 1211.4,715.9 1215.3,727 C1219.2,738.1 1222.4,751.5 1225,762.2 C1227.6,773 1228.9,781.1 1230.9,791.5 C1232.9,801.9 1235.2,812.7 1236.8,824.7 C1238.4,836.7 1239.4,852.3 1240.7,863.7 C1242,875.1 1243.3,887.6 1244.6,893.1 C1245.9,898.6 1247.4,901.9 1248.5,897 C1249.6,892.1 1250.1,876.4 1251.4,863.7 C1252.7,851 1254.2,831.2 1256.3,820.8 C1258.4,810.4 1261.5,805.3 1264.1,801.2 C1266.7,797.1 1268.7,796.3 1271.9,796.3 C1275.2,796.3 1280,796.5 1283.6,801.2 C1287.2,805.9 1290.8,815.9 1293.4,824.7 C1296,833.5 1297.7,842.6 1299.3,854 C1300.9,865.4 1301.9,880.1 1303.2,893.1 C1304.5,906.1 1305.8,919.1 1307.1,932.1 C1308.4,945.1 1310.2,960.5 1311,971.2 C1311.8,982 1312,996.6 1312,996.6 C1312,996.6 1313.2,975.4 1313.9,961.4 C1314.6,947.4 1315.2,927.2 1315.9,912.6 C1316.6,898 1316.8,884.2 1317.8,873.5 C1318.8,862.8 1319.9,855.9 1321.7,848.1 C1323.5,840.3 1326.1,832.1 1328.6,826.6 C1331,821.1 1333.2,818.1 1336.4,814.9 C1339.7,811.6 1343.7,807.4 1348.1,807.1 C1352.5,806.8 1360.3,812 1362.8,813" fill="none" stroke="#e00000" stroke-width="2.6" stroke-dasharray="15 11" stroke-linejoin="round"/>
<path d="M851.8,820.8 C852.9,817.2 856.2,804.7 858.7,799.3 C861.2,793.9 863.2,791 866.5,788.5 C869.8,786 874.6,784.3 878.2,784.6 C881.8,784.9 885.1,787.1 888,790.5 C890.9,793.9 893.2,798.4 895.8,805.1 C898.4,811.8 901.2,822.4 903.6,830.5 C906,838.6 910.4,854 910.4,854 C910.4,854 913.5,846.2 915.3,838.4 C917.1,830.6 918.9,817.5 921.2,807.1 C923.5,796.7 926.1,783.9 929,775.8 C931.9,767.7 934.9,762.5 938.8,758.3 C942.7,754.1 948.3,750.4 952.5,750.4 C956.7,750.4 961,754.1 964.2,758.3 C967.5,762.5 969.4,768.6 972,775.8 C974.6,782.9 977.7,794.7 979.8,801.2 C981.9,807.7 984.7,814.9 984.7,814.9 C984.7,814.9 988.5,805.2 990.6,795.4 C992.7,785.6 994.6,769.3 997.4,756.3 C1000.2,743.3 1003.3,728.6 1007.2,717.2 C1011.1,705.8 1015.9,696.4 1020.8,687.9 C1025.7,679.4 1030.6,672.2 1036.5,666.4 C1042.4,660.5 1048.8,655.9 1056,652.8 C1063.2,649.6 1072.1,648.4 1079.4,647.5 C1086.7,646.6 1091.7,647.4 1100,647.5 C1108.3,647.6 1120.5,647.2 1129.3,647.9 C1138.1,648.6 1146.2,649.7 1152.7,651.8 C1159.2,653.9 1163.2,656.9 1168.4,660.6 C1173.6,664.3 1179.1,668.7 1184,674.2 C1188.9,679.7 1193.5,686 1197.7,693.8 C1201.9,701.6 1206.2,712 1209.4,721.1 C1212.7,730.2 1214.6,737.4 1217.2,748.5 C1219.8,759.6 1222.7,776.5 1225,787.6 C1227.3,798.7 1230.9,814.9 1230.9,814.9 C1230.9,814.9 1234.5,802.9 1236.8,795.4 C1239.1,787.9 1241.7,776.9 1244.6,770 C1247.5,763.1 1251,757.6 1254.3,754.3 C1257.5,751 1260.8,750.1 1264.1,750.4 C1267.4,750.7 1270.7,752.4 1273.9,756.3 C1277.2,760.2 1280.7,766.7 1283.6,773.9 C1286.5,781.1 1288.9,789.2 1291.5,799.3 C1294.1,809.4 1297.1,825.3 1299.3,834.4 C1301.5,843.5 1304.7,854 1304.7,854 C1304.7,854 1308.7,842.5 1311,834.4 C1313.3,826.2 1315.9,812.9 1318.8,805.1 C1321.7,797.3 1325.3,791 1328.6,787.6 C1331.9,784.2 1335.2,784.3 1338.4,784.6 C1341.7,784.9 1345.2,786.7 1348.1,789.5 C1351,792.3 1353.5,796.3 1355.9,801.2 C1358.4,806.1 1361.7,815.9 1362.8,818.8" fill="none" stroke="#000" stroke-width="2.7" stroke-linejoin="miter" stroke-miterlimit="8"/>
<path d="M851.2,611.6 H1363.5" stroke="#000" stroke-width="2.2"/>
<path d="M852.3,611.6 V1024.1" stroke="#000" stroke-width="2.2"/>
<path d="M852.3,1023 H1364.5" stroke="#000" stroke-width="2.2"/>
<path d="M1363.5,611.6 V1023" stroke="#000" stroke-width="2"/>
<path d="M852.3,1023 h9" stroke="#000" stroke-width="2"/>
<path d="M852.3,1004.3 h5" stroke="#000" stroke-width="2"/>
<path d="M852.3,985.6 h9" stroke="#000" stroke-width="2"/>
<path d="M852.3,966.9 h5" stroke="#000" stroke-width="2"/>
<path d="M852.3,948.2 h9" stroke="#000" stroke-width="2"/>
<path d="M852.3,929.5 h5" stroke="#000" stroke-width="2"/>
<path d="M852.3,910.8 h9" stroke="#000" stroke-width="2"/>
<path d="M852.3,892.1 h5" stroke="#000" stroke-width="2"/>
<path d="M852.3,873.4 h9" stroke="#000" stroke-width="2"/>
<path d="M852.3,854.7 h5" stroke="#000" stroke-width="2"/>
<path d="M852.3,836 h9" stroke="#000" stroke-width="2"/>
<path d="M852.3,817.3 h5" stroke="#000" stroke-width="2"/>
<path d="M852.3,798.6 h9" stroke="#000" stroke-width="2"/>
<path d="M852.3,779.9 h5" stroke="#000" stroke-width="2"/>
<path d="M852.3,761.2 h9" stroke="#000" stroke-width="2"/>
<path d="M852.3,742.5 h5" stroke="#000" stroke-width="2"/>
<path d="M852.3,723.8 h9" stroke="#000" stroke-width="2"/>
<path d="M852.3,705.1 h5" stroke="#000" stroke-width="2"/>
<path d="M852.3,686.4 h9" stroke="#000" stroke-width="2"/>
<path d="M852.3,667.7 h5" stroke="#000" stroke-width="2"/>
<path d="M852.3,649 h9" stroke="#000" stroke-width="2"/>
<path d="M852.3,630.3 h5" stroke="#000" stroke-width="2"/>
<path d="M852.3,611.6 h9" stroke="#000" stroke-width="2"/>
<path d="M852.3,1023 v-9" stroke="#000" stroke-width="2"/>
<path d="M877.9,1023 v-5" stroke="#000" stroke-width="2"/>
<path d="M903.4,1023 v-9" stroke="#000" stroke-width="2"/>
<path d="M929,1023 v-5" stroke="#000" stroke-width="2"/>
<path d="M954.5,1023 v-9" stroke="#000" stroke-width="2"/>
<path d="M980.1,1023 v-5" stroke="#000" stroke-width="2"/>
<path d="M1005.7,1023 v-9" stroke="#000" stroke-width="2"/>
<path d="M1031.2,1023 v-5" stroke="#000" stroke-width="2"/>
<path d="M1056.8,1023 v-9" stroke="#000" stroke-width="2"/>
<path d="M1082.3,1023 v-5" stroke="#000" stroke-width="2"/>
<path d="M1107.9,1023 v-9" stroke="#000" stroke-width="2"/>
<path d="M1133.5,1023 v-5" stroke="#000" stroke-width="2"/>
<path d="M1159,1023 v-9" stroke="#000" stroke-width="2"/>
<path d="M1184.6,1023 v-5" stroke="#000" stroke-width="2"/>
<path d="M1210.1,1023 v-9" stroke="#000" stroke-width="2"/>
<path d="M1235.7,1023 v-5" stroke="#000" stroke-width="2"/>
<path d="M1261.3,1023 v-9" stroke="#000" stroke-width="2"/>
<path d="M1286.8,1023 v-5" stroke="#000" stroke-width="2"/>
<path d="M1312.4,1023 v-9" stroke="#000" stroke-width="2"/>
<path d="M1337.9,1023 v-5" stroke="#000" stroke-width="2"/>
<path d="M1363.5,1023 v-9" stroke="#000" stroke-width="2"/>
<text x="842.8" y="1031.1" text-anchor="end" font-family="'Liberation Serif', serif" font-weight="bold" font-size="24">-20</text>
<text x="842.8" y="993.7" text-anchor="end" font-family="'Liberation Serif', serif" font-weight="bold" font-size="24">-15</text>
<text x="842.8" y="956.3" text-anchor="end" font-family="'Liberation Serif', serif" font-weight="bold" font-size="24">-10</text>
<text x="842.8" y="918.9" text-anchor="end" font-family="'Liberation Serif', serif" font-weight="bold" font-size="24">-5</text>
<text x="842.8" y="881.5" text-anchor="end" font-family="'Liberation Serif', serif" font-weight="bold" font-size="24">0</text>
<text x="842.8" y="844.1" text-anchor="end" font-family="'Liberation Serif', serif" font-weight="bold" font-size="24">5</text>
<text x="842.8" y="806.7" text-anchor="end" font-family="'Liberation Serif', serif" font-weight="bold" font-size="24">10</text>
<text x="842.8" y="769.3" text-anchor="end" font-family="'Liberation Serif', serif" font-weight="bold" font-size="24">15</text>
<text x="842.8" y="731.9" text-anchor="end" font-family="'Liberation Serif', serif" font-weight="bold" font-size="24">20</text>
<text x="842.8" y="694.5" text-anchor="end" font-family="'Liberation Serif', serif" font-weight="bold" font-size="24">25</text>
<text x="842.8" y="657.1" text-anchor="end" font-family="'Liberation Serif', serif" font-weight="bold" font-size="24">30</text>
<text x="842.8" y="619.7" text-anchor="end" font-family="'Liberation Serif', serif" font-weight="bold" font-size="24">35</text>
<text x="852.3" y="1050.1" text-anchor="middle" font-family="'Liberation Serif', serif" font-weight="bold" font-size="21">-10</text>
<text x="903.4" y="1050.1" text-anchor="middle" font-family="'Liberation Serif', serif" font-weight="bold" font-size="21">-8</text>
<text x="954.5" y="1050.1" text-anchor="middle" font-family="'Liberation Serif', serif" font-weight="bold" font-size="21">-6</text>
<text x="1005.7" y="1050.1" text-anchor="middle" font-family="'Liberation Serif', serif" font-weight="bold" font-size="21">-4</text>
<text x="1056.8" y="1050.1" text-anchor="middle" font-family="'Liberation Serif', serif" font-weight="bold" font-size="21">-2</text>
<text x="1107.9" y="1050.1" text-anchor="middle" font-family="'Liberation Serif', serif" font-weight="bold" font-size="21">0</text>
<text x="1159" y="1050.1" text-anchor="middle" font-family="'Liberation Serif', serif" font-weight="bold" font-size="21">2</text>
<text x="1210.1" y="1050.1" text-anchor="middle" font-family="'Liberation Serif', serif" font-weight="bold" font-size="21">4</text>
<text x="1261.3" y="1050.1" text-anchor="middle" font-family="'Liberation Serif', serif" font-weight="bold" font-size="21">6</text>
<text x="1312.4" y="1050.1" text-anchor="middle" font-family="'Liberation Serif', serif" font-weight="bold" font-size="21">8</text>
<text x="1363.5" y="1050.1" text-anchor="middle" font-family="'Liberation Serif', serif" font-weight="bold" font-size="21">10</text>
<text x="1103.6" y="1072" text-anchor="middle" font-family="'Liberation Serif', serif" font-weight="bold" font-size="22.5" textLength="80" lengthAdjust="spacingAndGlyphs">Theta(&#176;)</text>
<text transform="translate(814.9,804.1) rotate(-90)" text-anchor="middle" font-family="'Liberation Serif', serif" font-weight="bold" font-size="23" textLength="92.4" lengthAdjust="spacingAndGlyphs">Gain(dB)</text>
<path d="M1057,892.1 H1102.9" stroke="#000" stroke-width="3.2"/>
<text x="1112.7" y="899.7" font-family="'Liberation Serif', serif" font-weight="bold" font-size="23">Sim.</text>
<path d="M1057,920.4 H1102.9" stroke="#e00000" stroke-width="3.2" stroke-dasharray="16 16"/>
<text x="1113.7" y="928" font-family="'Liberation Serif', serif" font-weight="bold" font-size="23">Mea.</text>
<path d="M215.9,1324.8 C217.7,1323 222.9,1316.6 226.8,1314.3 C230.7,1312 235.2,1309.9 239.4,1311.1 C243.6,1312.3 248.2,1315.6 252,1321.6 C255.8,1327.5 259,1338.8 262.5,1346.8 C266,1354.8 273,1369.9 273,1369.9 C273,1369.9 278.5,1360.1 281.3,1351 C284.1,1341.9 286.2,1325.8 289.7,1315.3 C293.2,1304.8 298.4,1295.1 302.3,1288.1 C306.2,1281.1 309,1276.7 312.8,1273.4 C316.6,1270.1 321.2,1267.4 325.4,1268.1 C329.6,1268.8 334.5,1273.6 338,1277.6 C341.5,1281.6 343.6,1287.7 346.4,1292.2 C349.2,1296.7 354.8,1304.8 354.8,1304.8 C354.8,1304.8 358.7,1299.2 361.1,1292.2 C363.6,1285.2 366.4,1273.4 369.5,1262.9 C372.6,1252.4 376.1,1240.2 380,1229.3 C383.9,1218.4 387.7,1207.2 392.6,1197.8 C397.5,1188.3 403,1180.3 409.3,1172.6 C415.6,1164.9 422.2,1157.8 430.3,1151.7 C438.4,1145.6 448.2,1139.4 457.6,1135.9 C467.1,1132.4 479.8,1131.5 487,1130.7 C494.2,1129.9 494.5,1130.2 501,1131.1 C507.5,1132 517.5,1132.8 526.2,1135.9 C534.9,1139 545.4,1143.8 553.4,1149.6 C561.4,1155.4 568.1,1162.1 574.4,1170.5 C580.7,1178.9 586.3,1189.4 591.2,1199.9 C596.1,1210.4 600.3,1222.3 603.8,1233.5 C607.3,1244.7 609.8,1255.9 612.2,1267.1 C614.7,1278.3 616.8,1287.3 618.5,1300.6 C620.2,1313.9 621.3,1330.3 622.7,1346.8 C624.1,1363.2 625.8,1386 626.9,1399.3 C628,1412.6 629.4,1426.6 629.4,1426.6 C629.4,1426.6 631.1,1403.8 632.1,1388.8 C633.1,1373.8 633.7,1350.3 635.3,1336.3 C636.9,1322.3 639.1,1313.5 641.6,1304.8 C644.1,1296.1 646.9,1288.4 650,1283.9 C653.1,1279.4 656.6,1277.6 660.5,1277.6 C664.4,1277.6 669.6,1280.1 673.1,1283.9 C676.6,1287.7 678.6,1293.3 681.4,1300.6 C684.2,1307.9 687,1317.1 689.8,1327.9 C692.6,1338.8 696.1,1357.1 698.2,1365.7 C700.3,1374.3 702.4,1379.3 702.4,1379.3 C702.4,1379.3 706.2,1370.8 708.7,1363.6 C711.2,1356.4 714,1344.3 717.1,1336.3 C720.2,1328.2 723.8,1319.5 727.6,1315.3 C731.5,1311.1 736.4,1310.4 740.2,1311.1 C744.1,1311.8 747,1313.2 750.7,1319.5 C754.4,1325.8 760.3,1344 762.2,1348.9" fill="none" stroke="#e00000" stroke-width="2.6" stroke-dasharray="15 11" stroke-linejoin="round"/>
<path d="M215.9,1305.9 C218.1,1305 224.3,1300 228.9,1300.2 C233.5,1300.4 239.8,1303.8 243.6,1307 C247.4,1310.2 249.6,1314.6 252,1319.5 C254.4,1324.4 256.2,1328.2 258.3,1336.3 C260.4,1344.3 262.6,1356.4 264.6,1367.8 C266.6,1379.2 270.4,1404.5 270.4,1404.5 C270.4,1404.5 273.3,1380.9 275.1,1367.8 C276.9,1354.7 279.2,1337 281.3,1325.8 C283.4,1314.6 285.2,1309 287.6,1300.6 C290.1,1292.2 292.9,1282.1 296,1275.5 C299.1,1268.9 302.8,1264 306.5,1260.8 C310.2,1257.6 314.2,1255.8 318.1,1256.2 C322,1256.6 325.9,1259 329.6,1262.9 C333.3,1266.8 337,1272 340.1,1279.7 C343.2,1287.4 346.1,1297.8 348.5,1309 C350.9,1320.2 352.7,1339.5 354.8,1346.8 C356.9,1354.1 359.4,1358.3 361.1,1353.1 C362.9,1347.8 363.6,1328.6 365.3,1315.3 C367.1,1302 368.8,1287 371.6,1273.4 C374.4,1259.8 378.2,1245 382.1,1233.5 C386,1222 390.2,1213.2 394.7,1204.1 C399.2,1195 403.7,1186.6 409.3,1178.9 C414.9,1171.2 421.6,1163.8 428.2,1158 C434.8,1152.2 441.5,1147.6 449.2,1144.3 C456.9,1141 465.8,1139 474.4,1138 C483,1137 493.1,1137.5 501,1138.4 C508.9,1139.3 515,1140.4 522,1143.3 C529,1146.2 536.7,1151.4 543,1155.9 C549.3,1160.4 554.8,1166 559.7,1170.5 C564.6,1175 568.1,1176.4 572.3,1183.1 C576.5,1189.8 581,1199.9 584.9,1210.4 C588.8,1220.9 592.6,1233.8 595.4,1246.1 C598.2,1258.3 600,1270.6 601.7,1283.9 C603.5,1297.2 604.7,1311.8 605.9,1325.8 C607.1,1339.8 608,1354.7 609.1,1367.8 C610.2,1380.9 612.6,1404.5 612.6,1404.5 C612.6,1404.5 614.7,1382.7 616.4,1367.8 C618.1,1352.9 620.6,1329.3 622.7,1315.3 C624.8,1301.3 626.2,1292.6 629,1283.9 C631.8,1275.2 635.8,1267.5 639.5,1262.9 C643.2,1258.3 647.1,1256.2 651,1256.2 C654.9,1256.2 659.3,1260 662.6,1262.9 C665.9,1265.8 668.2,1267.1 671,1273.4 C673.8,1279.7 676.5,1288.4 679.3,1300.6 C682.1,1312.8 685.6,1332.1 687.7,1346.8 C689.8,1361.5 690.9,1373.1 691.9,1388.8 C692.9,1404.5 693.3,1426.2 694,1441.2 C694.7,1456.2 696.1,1479 696.1,1479 C696.1,1479 698.2,1447.5 699.3,1430.7 C700.3,1413.9 700.8,1395.1 702.4,1378.3 C704,1361.5 706.2,1342.2 708.7,1330 C711.2,1317.8 713.2,1311.6 717.1,1304.8 C721,1298 727.2,1290.7 731.8,1289.1 C736.3,1287.5 740.5,1291.4 744.4,1295.4 C748.2,1299.4 751.9,1306.7 754.9,1313.2 C757.9,1319.7 761,1330.7 762.2,1334.2" fill="none" stroke="#000" stroke-width="2.7" stroke-linejoin="miter" stroke-miterlimit="8"/>
<path d="M215.7,1102.7 H763.2" stroke="#000" stroke-width="2.2"/>
<path d="M216.8,1102.7 V1508.1" stroke="#000" stroke-width="2.2"/>
<path d="M216.8,1507 H764.2" stroke="#000" stroke-width="2.2"/>
<path d="M763.2,1102.7 V1507" stroke="#000" stroke-width="2"/>
<path d="M216.8,1507 h9" stroke="#000" stroke-width="2"/>
<path d="M216.8,1486.8 h5" stroke="#000" stroke-width="2"/>
<path d="M216.8,1466.6 h9" stroke="#000" stroke-width="2"/>
<path d="M216.8,1446.4 h5" stroke="#000" stroke-width="2"/>
<path d="M216.8,1426.1 h9" stroke="#000" stroke-width="2"/>
<path d="M216.8,1405.9 h5" stroke="#000" stroke-width="2"/>
<path d="M216.8,1385.7 h9" stroke="#000" stroke-width="2"/>
<path d="M216.8,1365.5 h5" stroke="#000" stroke-width="2"/>
<path d="M216.8,1345.3 h9" stroke="#000" stroke-width="2"/>
<path d="M216.8,1325.1 h5" stroke="#000" stroke-width="2"/>
<path d="M216.8,1304.8 h9" stroke="#000" stroke-width="2"/>
<path d="M216.8,1284.6 h5" stroke="#000" stroke-width="2"/>
<path d="M216.8,1264.4 h9" stroke="#000" stroke-width="2"/>
<path d="M216.8,1244.2 h5" stroke="#000" stroke-width="2"/>
<path d="M216.8,1224 h9" stroke="#000" stroke-width="2"/>
<path d="M216.8,1203.8 h5" stroke="#000" stroke-width="2"/>
<path d="M216.8,1183.6 h9" stroke="#000" stroke-width="2"/>
<path d="M216.8,1163.3 h5" stroke="#000" stroke-width="2"/>
<path d="M216.8,1143.1 h9" stroke="#000" stroke-width="2"/>
<path d="M216.8,1122.9 h5" stroke="#000" stroke-width="2"/>
<path d="M216.8,1102.7 h9" stroke="#000" stroke-width="2"/>
<path d="M216.8,1507 v-9" stroke="#000" stroke-width="2"/>
<path d="M244.1,1507 v-5" stroke="#000" stroke-width="2"/>
<path d="M271.4,1507 v-9" stroke="#000" stroke-width="2"/>
<path d="M298.8,1507 v-5" stroke="#000" stroke-width="2"/>
<path d="M326.1,1507 v-9" stroke="#000" stroke-width="2"/>
<path d="M353.4,1507 v-5" stroke="#000" stroke-width="2"/>
<path d="M380.7,1507 v-9" stroke="#000" stroke-width="2"/>
<path d="M408,1507 v-5" stroke="#000" stroke-width="2"/>
<path d="M435.4,1507 v-9" stroke="#000" stroke-width="2"/>
<path d="M462.7,1507 v-5" stroke="#000" stroke-width="2"/>
<path d="M490,1507 v-9" stroke="#000" stroke-width="2"/>
<path d="M517.3,1507 v-5" stroke="#000" stroke-width="2"/>
<path d="M544.6,1507 v-9" stroke="#000" stroke-width="2"/>
<path d="M572,1507 v-5" stroke="#000" stroke-width="2"/>
<path d="M599.3,1507 v-9" stroke="#000" stroke-width="2"/>
<path d="M626.6,1507 v-5" stroke="#000" stroke-width="2"/>
<path d="M653.9,1507 v-9" stroke="#000" stroke-width="2"/>
<path d="M681.2,1507 v-5" stroke="#000" stroke-width="2"/>
<path d="M708.6,1507 v-9" stroke="#000" stroke-width="2"/>
<path d="M735.9,1507 v-5" stroke="#000" stroke-width="2"/>
<path d="M763.2,1507 v-9" stroke="#000" stroke-width="2"/>
<text x="206.2" y="1515.5" text-anchor="end" font-family="'Liberation Serif', serif" font-weight="bold" font-size="25">-15</text>
<text x="206.2" y="1475" text-anchor="end" font-family="'Liberation Serif', serif" font-weight="bold" font-size="25">-10</text>
<text x="206.2" y="1434.6" text-anchor="end" font-family="'Liberation Serif', serif" font-weight="bold" font-size="25">-5</text>
<text x="206.2" y="1394.2" text-anchor="end" font-family="'Liberation Serif', serif" font-weight="bold" font-size="25">0</text>
<text x="206.2" y="1353.7" text-anchor="end" font-family="'Liberation Serif', serif" font-weight="bold" font-size="25">5</text>
<text x="206.2" y="1313.3" text-anchor="end" font-family="'Liberation Serif', serif" font-weight="bold" font-size="25">10</text>
<text x="206.2" y="1272.9" text-anchor="end" font-family="'Liberation Serif', serif" font-weight="bold" font-size="25">15</text>
<text x="206.2" y="1232.4" text-anchor="end" font-family="'Liberation Serif', serif" font-weight="bold" font-size="25">20</text>
<text x="206.2" y="1192" text-anchor="end" font-family="'Liberation Serif', serif" font-weight="bold" font-size="25">25</text>
<text x="206.2" y="1151.6" text-anchor="end" font-family="'Liberation Serif', serif" font-weight="bold" font-size="25">30</text>
<text x="206.2" y="1111.2" text-anchor="end" font-family="'Liberation Serif', serif" font-weight="bold" font-size="25">35</text>
<text x="216.8" y="1534.4" text-anchor="middle" font-family="'Liberation Serif', serif" font-weight="bold" font-size="22">-10</text>
<text x="271.4" y="1534.4" text-anchor="middle" font-family="'Liberation Serif', serif" font-weight="bold" font-size="22">-8</text>
<text x="326.1" y="1534.4" text-anchor="middle" font-family="'Liberation Serif', serif" font-weight="bold" font-size="22">-6</text>
<text x="380.7" y="1534.4" text-anchor="middle" font-family="'Liberation Serif', serif" font-weight="bold" font-size="22">-4</text>
<text x="435.4" y="1534.4" text-anchor="middle" font-family="'Liberation Serif', serif" font-weight="bold" font-size="22">-2</text>
<text x="490" y="1534.4" text-anchor="middle" font-family="'Liberation Serif', serif" font-weight="bold" font-size="22">0</text>
<text x="544.6" y="1534.4" text-anchor="middle" font-family="'Liberation Serif', serif" font-weight="bold" font-size="22">2</text>
<text x="599.3" y="1534.4" text-anchor="middle" font-family="'Liberation Serif', serif" font-weight="bold" font-size="22">4</text>
<text x="653.9" y="1534.4" text-anchor="middle" font-family="'Liberation Serif', serif" font-weight="bold" font-size="22">6</text>
<text x="708.6" y="1534.4" text-anchor="middle" font-family="'Liberation Serif', serif" font-weight="bold" font-size="22">8</text>
<text x="763.2" y="1534.4" text-anchor="middle" font-family="'Liberation Serif', serif" font-weight="bold" font-size="22">10</text>
<text x="491.2" y="1564.5" text-anchor="middle" font-family="'Liberation Serif', serif" font-weight="bold" font-size="23" textLength="86.8" lengthAdjust="spacingAndGlyphs">Theta(&#176;)</text>
<text transform="translate(169.8,1281.6) rotate(-90)" text-anchor="middle" font-family="'Liberation Serif', serif" font-weight="bold" font-size="22.5" textLength="90" lengthAdjust="spacingAndGlyphs">Gain(dB)</text>
<path d="M427.2,1377.2 H475.5" stroke="#e00000" stroke-width="3.2" stroke-dasharray="16 16"/>
<text x="487.3" y="1385" font-family="'Liberation Serif', serif" font-weight="bold" font-size="23.6">Sim.</text>
<path d="M427.2,1405.6 H475.5" stroke="#000" stroke-width="3.2"/>
<text x="488.4" y="1413.5" font-family="'Liberation Serif', serif" font-weight="bold" font-size="24">Mea.</text>
<path d="M857.9,1401 C858.5,1405.7 859.8,1422.1 861.3,1429.3 C862.8,1436.5 866.9,1444.3 866.9,1444.3 C866.9,1444.3 869.4,1431.7 870.7,1419.8 C872,1407.9 872.6,1385.6 874.5,1372.8 C876.4,1360 879.5,1350.8 882,1342.7 C884.5,1334.6 886.7,1328.6 889.5,1323.9 C892.3,1319.2 895.8,1315.8 898.9,1314.5 C902,1313.2 905.5,1313.6 908.3,1316.4 C911.1,1319.2 913.7,1325.1 915.9,1331.4 C918.1,1337.7 919.6,1344.6 921.5,1354 C923.4,1363.4 925.2,1383.2 927.1,1387.9 C929,1392.6 930.9,1387.9 932.8,1382.2 C934.7,1376.5 936.2,1365.6 938.4,1354 C940.6,1342.4 943.2,1324.8 946,1312.6 C948.8,1300.4 952.6,1287.8 955.4,1280.6 C958.2,1273.4 960.1,1271.5 962.9,1269.3 C965.7,1267.1 969.5,1266.5 972.3,1267.5 C975.1,1268.5 977.3,1270 979.8,1275 C982.3,1280 985.1,1289.8 987.3,1297.6 C989.5,1305.4 991.4,1315.7 993,1322 C994.6,1328.3 996.8,1335.2 996.8,1335.2 C996.8,1335.2 998.9,1327.9 1000.5,1320.1 C1002.1,1312.2 1004.3,1299.7 1006.2,1288.1 C1008.1,1276.5 1009.6,1262.1 1011.8,1250.5 C1014,1238.9 1016.5,1228.5 1019.3,1218.5 C1022.1,1208.5 1024.9,1198.8 1028.7,1190.3 C1032.5,1181.8 1037.2,1174.3 1041.9,1167.7 C1046.6,1161.1 1050.7,1155 1057,1150.8 C1063.3,1146.6 1070.7,1144 1079.5,1142.3 C1088.3,1140.6 1103.5,1140.8 1110,1140.5 C1116.5,1140.2 1112.9,1139.6 1118.8,1140.5 C1124.7,1141.4 1137.3,1142.8 1145.2,1146.1 C1153.1,1149.4 1160,1154.1 1165.9,1160.2 C1171.9,1166.3 1176.2,1173.4 1180.9,1182.8 C1185.6,1192.2 1190.6,1205.4 1194.1,1216.7 C1197.5,1228 1199.4,1238.6 1201.6,1250.5 C1203.8,1262.4 1205.6,1277.1 1207.2,1288.1 C1208.8,1299.1 1209.6,1308.2 1211,1316.4 C1212.4,1324.6 1215.7,1337.1 1215.7,1337.1 C1215.7,1337.1 1218.7,1324.9 1220.4,1318.3 C1222.1,1311.7 1223.9,1304.5 1226.1,1297.6 C1228.3,1290.7 1230.8,1281.6 1233.6,1276.9 C1236.4,1272.2 1240.2,1270.4 1243,1269.3 C1245.8,1268.2 1248,1268.1 1250.5,1270.3 C1253,1272.5 1255.8,1277.5 1258,1282.5 C1260.2,1287.5 1262.1,1295.4 1263.5,1300 C1264.9,1304.6 1265.3,1306.1 1266.3,1310.3 C1267.2,1314.5 1268.3,1320.5 1269.2,1325.4 C1270.1,1330.3 1270.6,1334.3 1271.5,1339.5 C1272.4,1344.7 1273.8,1348.9 1274.8,1356.4 C1275.8,1363.9 1277,1377.8 1277.6,1384.7 C1278.2,1391.6 1277.5,1396.1 1278.6,1397.8 C1279.7,1399.5 1282.8,1397.7 1284.2,1395 C1285.6,1392.3 1286,1386.6 1287,1381.8 C1288,1377 1289.1,1370.8 1289.9,1365.9 C1290.7,1361.1 1290.8,1357.4 1291.7,1352.7 C1292.6,1348 1294.1,1342.5 1295.5,1337.6 C1296.9,1332.7 1298.5,1327 1300.2,1323.5 C1301.9,1320 1303.7,1318.8 1305.9,1316.9 C1308.1,1315 1310.8,1311.4 1313.4,1312.2 C1316.1,1313 1319.3,1317.4 1321.8,1321.6 C1324.3,1325.8 1326.7,1332.6 1328.4,1337.6 C1330.1,1342.6 1331.1,1346.7 1332.2,1351.7 C1333.3,1356.7 1334.1,1362.7 1335,1367.7 C1335.9,1372.7 1337,1376.6 1337.8,1381.8 C1338.6,1387 1339.1,1393.6 1339.7,1398.8 C1340.3,1404 1341,1407.4 1341.6,1412.9 C1342.2,1418.4 1342.9,1427 1343.5,1431.7 C1344.1,1436.4 1344.5,1439.1 1345.4,1441.1 C1346.3,1443.1 1348.2,1445.5 1349.1,1443.9 C1350,1442.3 1350.4,1436.9 1351,1431.7 C1351.6,1426.5 1352.4,1418.2 1352.9,1412.9 C1353.5,1407.6 1354.1,1401.9 1354.3,1399.7" fill="none" stroke="#e00000" stroke-width="2.6" stroke-dasharray="15 11" stroke-linejoin="round"/>
<path d="M857.9,1491.3 C858.3,1484.1 859.1,1461.6 860.3,1448.1 C861.5,1434.6 863,1423.3 865.1,1410.4 C867.2,1397.5 869.8,1381.2 872.6,1370.9 C875.4,1360.6 878.5,1353.4 882,1348.4 C885.5,1343.5 889.5,1341.2 893.3,1341.2 C897.1,1341.2 901.5,1344.4 904.6,1348.4 C907.7,1352.4 909.9,1358.4 912.1,1365.3 C914.3,1372.2 915.7,1380.1 917.7,1389.7 C919.7,1399.3 922.2,1418.3 924.3,1422.7 C926.3,1427.1 928.3,1421.3 930,1416.1 C931.7,1410.9 932.7,1401.9 934.7,1391.6 C936.7,1381.2 939.7,1363.4 942.2,1354 C944.7,1344.6 946.6,1340.1 949.7,1335.2 C952.8,1330.3 957.9,1325.4 961,1324.8 C964.1,1324.2 966,1326.9 968.5,1331.4 C971,1336 973.9,1346.6 976.1,1352.1 C978.3,1357.6 980.1,1362.4 981.7,1364.3 C983.3,1366.2 983.9,1369.8 985.5,1363.4 C987.1,1357 988.9,1339.3 991.1,1325.8 C993.3,1312.3 996.1,1295.7 998.6,1282.5 C1001.1,1269.3 1003.4,1257.8 1006.2,1246.8 C1009,1235.8 1011.9,1226.4 1015.6,1216.7 C1019.4,1207 1023.4,1196.9 1028.7,1188.4 C1034,1179.9 1041.3,1171.5 1047.6,1165.9 C1053.9,1160.3 1058.6,1157.7 1066.4,1154.6 C1074.2,1151.5 1087.3,1148.7 1094.6,1147.4 C1101.9,1146.1 1105.3,1146.9 1110,1147 C1114.7,1147.1 1117.4,1146.9 1122.6,1148 C1127.8,1149.1 1135.8,1151.1 1141.4,1153.6 C1147,1156.1 1151.4,1159.1 1156.4,1163 C1161.4,1166.9 1166.8,1171.3 1171.5,1177.1 C1176.2,1182.9 1180.6,1189.9 1184.7,1197.8 C1188.8,1205.7 1192.5,1214.5 1196,1224.2 C1199.5,1233.9 1202.6,1244.9 1205.4,1256.2 C1208.2,1267.5 1210.7,1278.7 1212.9,1291.9 C1215.1,1305.1 1216.8,1321.7 1218.5,1335.2 C1220.2,1348.7 1221.7,1360.6 1223.2,1372.8 C1224.7,1385 1227.6,1408.6 1227.6,1408.6 C1227.6,1408.6 1230.1,1391.3 1231.7,1382.2 C1233.3,1373.1 1235.1,1362.5 1237.3,1354 C1239.5,1345.5 1242.1,1336.4 1244.9,1331.4 C1247.7,1326.4 1251,1324.1 1254.1,1324 C1257.2,1323.9 1260.7,1325.9 1263.5,1331 C1266.3,1336.1 1268.7,1345.6 1271,1354.6 C1273.3,1363.5 1275.7,1373.4 1277.6,1384.7 C1279.5,1396 1280.9,1410.5 1282.3,1422.3 C1283.7,1434 1285.1,1445.2 1286.1,1455.2 C1287.1,1465.2 1288.2,1482.5 1288.2,1482.5 C1288.2,1482.5 1289.7,1468.4 1290.8,1459.9 C1291.9,1451.4 1293,1442.7 1294.6,1431.7 C1296.2,1420.7 1298.3,1404.3 1300.2,1394.1 C1302.1,1383.9 1303.7,1376.9 1305.9,1370.6 C1308.1,1364.3 1311.1,1359.3 1313.4,1356.4 C1315.7,1353.5 1317.2,1352.9 1319.5,1353.2 C1321.8,1353.5 1325.1,1355.4 1327.5,1358.3 C1329.9,1361.2 1332.1,1365.4 1334.1,1370.6 C1336.1,1375.8 1337.8,1381.6 1339.7,1389.4 C1341.6,1397.2 1343.8,1407.4 1345.4,1417.6 C1347,1427.8 1347.8,1440.3 1349.1,1450.5 C1350.3,1460.7 1351.9,1469.3 1352.9,1478.7 C1353.9,1488.1 1354.7,1502.3 1355,1507" fill="none" stroke="#000" stroke-width="2.7" stroke-linejoin="miter" stroke-miterlimit="8"/>
<path d="M856.2,1107.7 H1355.2" stroke="#000" stroke-width="2.5"/>
<path d="M857.5,1107.7 V1510" stroke="#000" stroke-width="2.5"/>
<path d="M857.5,1508.8 H1356.3" stroke="#000" stroke-width="2.5"/>
<path d="M1355.2,1107.7 V1508.8" stroke="#000" stroke-width="2.2"/>
<path d="M857.5,1508.8 h9" stroke="#000" stroke-width="2"/>
<path d="M857.5,1486.5 h5" stroke="#000" stroke-width="2"/>
<path d="M857.5,1464.2 h9" stroke="#000" stroke-width="2"/>
<path d="M857.5,1442 h5" stroke="#000" stroke-width="2"/>
<path d="M857.5,1419.7 h9" stroke="#000" stroke-width="2"/>
<path d="M857.5,1397.4 h5" stroke="#000" stroke-width="2"/>
<path d="M857.5,1375.1 h9" stroke="#000" stroke-width="2"/>
<path d="M857.5,1352.8 h5" stroke="#000" stroke-width="2"/>
<path d="M857.5,1330.5 h9" stroke="#000" stroke-width="2"/>
<path d="M857.5,1308.2 h5" stroke="#000" stroke-width="2"/>
<path d="M857.5,1286 h9" stroke="#000" stroke-width="2"/>
<path d="M857.5,1263.7 h5" stroke="#000" stroke-width="2"/>
<path d="M857.5,1241.4 h9" stroke="#000" stroke-width="2"/>
<path d="M857.5,1219.1 h5" stroke="#000" stroke-width="2"/>
<path d="M857.5,1196.8 h9" stroke="#000" stroke-width="2"/>
<path d="M857.5,1174.5 h5" stroke="#000" stroke-width="2"/>
<path d="M857.5,1152.3 h9" stroke="#000" stroke-width="2"/>
<path d="M857.5,1130 h5" stroke="#000" stroke-width="2"/>
<path d="M857.5,1107.7 h9" stroke="#000" stroke-width="2"/>
<path d="M857.5,1508.8 v-9" stroke="#000" stroke-width="2"/>
<path d="M882.4,1508.8 v-5" stroke="#000" stroke-width="2"/>
<path d="M907.3,1508.8 v-9" stroke="#000" stroke-width="2"/>
<path d="M932.2,1508.8 v-5" stroke="#000" stroke-width="2"/>
<path d="M957,1508.8 v-9" stroke="#000" stroke-width="2"/>
<path d="M981.9,1508.8 v-5" stroke="#000" stroke-width="2"/>
<path d="M1006.8,1508.8 v-9" stroke="#000" stroke-width="2"/>
<path d="M1031.7,1508.8 v-5" stroke="#000" stroke-width="2"/>
<path d="M1056.6,1508.8 v-9" stroke="#000" stroke-width="2"/>
<path d="M1081.5,1508.8 v-5" stroke="#000" stroke-width="2"/>
<path d="M1106.3,1508.8 v-9" stroke="#000" stroke-width="2"/>
<path d="M1131.2,1508.8 v-5" stroke="#000" stroke-width="2"/>
<path d="M1156.1,1508.8 v-9" stroke="#000" stroke-width="2"/>
<path d="M1181,1508.8 v-5" stroke="#000" stroke-width="2"/>
<path d="M1205.9,1508.8 v-9" stroke="#000" stroke-width="2"/>
<path d="M1230.8,1508.8 v-5" stroke="#000" stroke-width="2"/>
<path d="M1255.7,1508.8 v-9" stroke="#000" stroke-width="2"/>
<path d="M1280.5,1508.8 v-5" stroke="#000" stroke-width="2"/>
<path d="M1305.4,1508.8 v-9" stroke="#000" stroke-width="2"/>
<path d="M1330.3,1508.8 v-5" stroke="#000" stroke-width="2"/>
<path d="M1355.2,1508.8 v-9" stroke="#000" stroke-width="2"/>
<text x="848.5" y="1514.9" text-anchor="end" font-family="'Liberation Serif', serif" font-weight="normal" font-size="18">-10</text>
<text x="848.5" y="1470.3" text-anchor="end" font-family="'Liberation Serif', serif" font-weight="normal" font-size="18">-5</text>
<text x="848.5" y="1425.8" text-anchor="end" font-family="'Liberation Serif', serif" font-weight="normal" font-size="18">0</text>
<text x="848.5" y="1381.2" text-anchor="end" font-family="'Liberation Serif', serif" font-weight="normal" font-size="18">5</text>
<text x="848.5" y="1336.6" text-anchor="end" font-family="'Liberation Serif', serif" font-weight="normal" font-size="18">10</text>
<text x="848.5" y="1292.1" text-anchor="end" font-family="'Liberation Serif', serif" font-weight="normal" font-size="18">15</text>
<text x="848.5" y="1247.5" text-anchor="end" font-family="'Liberation Serif', serif" font-weight="normal" font-size="18">20</text>
<text x="848.5" y="1202.9" text-anchor="end" font-family="'Liberation Serif', serif" font-weight="normal" font-size="18">25</text>
<text x="848.5" y="1158.4" text-anchor="end" font-family="'Liberation Serif', serif" font-weight="normal" font-size="18">30</text>
<text x="848.5" y="1113.8" text-anchor="end" font-family="'Liberation Serif', serif" font-weight="normal" font-size="18">35</text>
<text x="857.5" y="1532.9" text-anchor="middle" font-family="'Liberation Serif', serif" font-weight="normal" font-size="18">-10</text>
<text x="907.3" y="1532.9" text-anchor="middle" font-family="'Liberation Serif', serif" font-weight="normal" font-size="18">-8</text>
<text x="957" y="1532.9" text-anchor="middle" font-family="'Liberation Serif', serif" font-weight="normal" font-size="18">-6</text>
<text x="1006.8" y="1532.9" text-anchor="middle" font-family="'Liberation Serif', serif" font-weight="normal" font-size="18">-4</text>
<text x="1056.6" y="1532.9" text-anchor="middle" font-family="'Liberation Serif', serif" font-weight="normal" font-size="18">-2</text>
<text x="1106.3" y="1532.9" text-anchor="middle" font-family="'Liberation Serif', serif" font-weight="normal" font-size="18">0</text>
<text x="1156.1" y="1532.9" text-anchor="middle" font-family="'Liberation Serif', serif" font-weight="normal" font-size="18">2</text>
<text x="1205.9" y="1532.9" text-anchor="middle" font-family="'Liberation Serif', serif" font-weight="normal" font-size="18">4</text>
<text x="1255.7" y="1532.9" text-anchor="middle" font-family="'Liberation Serif', serif" font-weight="normal" font-size="18">6</text>
<text x="1305.4" y="1532.9" text-anchor="middle" font-family="'Liberation Serif', serif" font-weight="normal" font-size="18">8</text>
<text x="1355.2" y="1532.9" text-anchor="middle" font-family="'Liberation Serif', serif" font-weight="normal" font-size="18">10</text>
<text x="1110" y="1558.5" text-anchor="middle" font-family="'Liberation Serif', serif" font-weight="normal" font-size="20" textLength="67.7" lengthAdjust="spacingAndGlyphs">Theta(&#176;)</text>
<text transform="translate(817.7,1307) rotate(-90)" text-anchor="middle" font-family="'Liberation Serif', serif" font-weight="normal" font-size="20.5" textLength="77.3" lengthAdjust="spacingAndGlyphs">Gain(dB)</text>
<path d="M1057,1400.1 H1102" stroke="#e00000" stroke-width="3.2" stroke-dasharray="16 16"/>
<text x="1111.3" y="1408.4" font-family="'Liberation Serif', serif" font-weight="bold" font-size="19.5">Sim.</text>
<path d="M1057,1426.4 H1102" stroke="#000" stroke-width="3.2"/>
<text x="1112.2" y="1434.7" font-family="'Liberation Serif', serif" font-weight="bold" font-size="19.5">Mea.</text>
<defs>
<linearGradient id="gDisc" gradientUnits="userSpaceOnUse" x1="320" y1="0" x2="892" y2="0"><stop offset="0.000" stop-color="#8c8c88"/><stop offset="0.026" stop-color="#979793"/><stop offset="0.227" stop-color="#9a9a96"/><stop offset="0.420" stop-color="#9f9e9b"/><stop offset="0.524" stop-color="#9c9a98"/><stop offset="0.647" stop-color="#8c8a88"/><stop offset="0.769" stop-color="#767473"/><stop offset="0.892" stop-color="#686665"/><stop offset="1.000" stop-color="#615f5f"/></linearGradient>
<linearGradient id="gTint" gradientUnits="userSpaceOnUse" x1="0" y1="1665" x2="0" y2="2300">
<stop offset="0" stop-color="#8a6a6a" stop-opacity="0.10"/><stop offset="0.5" stop-color="#808080" stop-opacity="0"/><stop offset="1" stop-color="#7a8a6a" stop-opacity="0.10"/>
</linearGradient>
<linearGradient id="gLip" gradientUnits="userSpaceOnUse" x1="0" y1="1760" x2="0" y2="2240">
<stop offset="0" stop-color="#c8c6be"/><stop offset="0.35" stop-color="#bebcb4"/><stop offset="0.55" stop-color="#8e8c88"/><stop offset="1" stop-color="#6e6c68"/>
</linearGradient>
<radialGradient id="gBlob" gradientUnits="userSpaceOnUse" cx="670" cy="1985" r="125" fx="670" fy="2003"><stop offset="0.000" stop-color="#0014d7"/><stop offset="0.108" stop-color="#0014d7"/><stop offset="0.110" stop-color="#002ddc"/><stop offset="0.278" stop-color="#002ddc"/><stop offset="0.280" stop-color="#004be1"/><stop offset="0.448" stop-color="#004be1"/><stop offset="0.450" stop-color="#0069e1"/><stop offset="0.608" stop-color="#0069e1"/><stop offset="0.610" stop-color="#0087de"/><stop offset="0.738" stop-color="#0087de"/><stop offset="0.740" stop-color="#00a0da"/><stop offset="0.858" stop-color="#00a0da"/><stop offset="0.860" stop-color="#00b4d4"/><stop offset="0.998" stop-color="#00b4d4"/><stop offset="1.000" stop-color="#00c8cd"/></radialGradient>
<linearGradient id="gFanMask" gradientUnits="userSpaceOnUse" x1="690" y1="0" x2="745" y2="0"><stop offset="0" stop-color="#000"/><stop offset="1" stop-color="#fff"/></linearGradient>
<mask id="mFan" maskUnits="userSpaceOnUse" x="600" y="1700" width="450" height="400"><rect x="600" y="1700" width="450" height="400" fill="url(#gFanMask)"/></mask>
<linearGradient id="gFan" gradientUnits="userSpaceOnUse" x1="688" y1="1990" x2="900" y2="1955">
<stop offset="0" stop-color="#0a70d8"/><stop offset="0.12" stop-color="#0890d8"/><stop offset="0.22" stop-color="#00a6cc"/><stop offset="0.35" stop-color="#00b8a0"/><stop offset="0.48" stop-color="#00bc60"/><stop offset="0.6" stop-color="#04c028"/><stop offset="0.75" stop-color="#28c200"/><stop offset="0.9" stop-color="#58c400"/><stop offset="1" stop-color="#70c400"/>
</linearGradient>
<radialGradient id="gBeam" gradientUnits="userSpaceOnUse" cx="968" cy="1777" r="215" fx="968" fy="1777"><stop offset="0.0000" stop-color="#d70000"/><stop offset="0.0739" stop-color="#d70000"/><stop offset="0.0744" stop-color="#d01000"/><stop offset="0.1344" stop-color="#d01000"/><stop offset="0.1349" stop-color="#cb2400"/><stop offset="0.1948" stop-color="#cb2400"/><stop offset="0.1953" stop-color="#c83a00"/><stop offset="0.2553" stop-color="#c83a00"/><stop offset="0.2558" stop-color="#c65000"/><stop offset="0.3158" stop-color="#c65000"/><stop offset="0.3163" stop-color="#c46600"/><stop offset="0.3762" stop-color="#c46600"/><stop offset="0.3767" stop-color="#c37c00"/><stop offset="0.4367" stop-color="#c37c00"/><stop offset="0.4372" stop-color="#c29200"/><stop offset="0.4972" stop-color="#c29200"/><stop offset="0.4977" stop-color="#c0a600"/><stop offset="0.5576" stop-color="#c0a600"/><stop offset="0.5581" stop-color="#bab800"/><stop offset="0.6228" stop-color="#bab800"/><stop offset="0.6233" stop-color="#aac000"/><stop offset="0.6879" stop-color="#aac000"/><stop offset="0.6884" stop-color="#94c300"/><stop offset="0.7530" stop-color="#94c300"/><stop offset="0.7535" stop-color="#7ac400"/><stop offset="0.8181" stop-color="#7ac400"/><stop offset="0.8186" stop-color="#60c300"/><stop offset="0.8832" stop-color="#60c300"/><stop offset="0.8837" stop-color="#46c200"/><stop offset="0.9437" stop-color="#46c200"/><stop offset="0.9442" stop-color="#2cc000"/><stop offset="0.9995" stop-color="#2cc000"/><stop offset="1.0000" stop-color="#14be0a"/><stop offset="0.9995" stop-color="#14be0a"/></radialGradient>
<radialGradient id="gFanR" gradientUnits="userSpaceOnUse" cx="968" cy="1777" r="380" fx="968" fy="1777"><stop offset="0.0000" stop-color="#3cc200"/><stop offset="0.3942" stop-color="#3cc200"/><stop offset="0.3947" stop-color="#3cc200"/><stop offset="0.4337" stop-color="#3cc200"/><stop offset="0.4342" stop-color="#2dc000"/><stop offset="0.4732" stop-color="#2dc000"/><stop offset="0.4737" stop-color="#1ebe00"/><stop offset="0.5258" stop-color="#1ebe00"/><stop offset="0.5263" stop-color="#14be0a"/><stop offset="0.5653" stop-color="#14be0a"/><stop offset="0.5658" stop-color="#00be1e"/><stop offset="0.5995" stop-color="#00be1e"/><stop offset="0.6000" stop-color="#00bd3c"/><stop offset="0.6363" stop-color="#00bd3c"/><stop offset="0.6368" stop-color="#00bc5f"/><stop offset="0.6732" stop-color="#00bc5f"/><stop offset="0.6737" stop-color="#00ba7d"/><stop offset="0.7100" stop-color="#00ba7d"/><stop offset="0.7105" stop-color="#00b79b"/><stop offset="0.7469" stop-color="#00b79b"/><stop offset="0.7474" stop-color="#00b2b4"/><stop offset="0.7837" stop-color="#00b2b4"/><stop offset="0.7842" stop-color="#00aac8"/><stop offset="0.8206" stop-color="#00aac8"/><stop offset="0.8211" stop-color="#009ed2"/><stop offset="0.8574" stop-color="#009ed2"/><stop offset="0.8579" stop-color="#008ed8"/><stop offset="0.8942" stop-color="#008ed8"/><stop offset="0.8947" stop-color="#007ddc"/><stop offset="0.9311" stop-color="#007ddc"/><stop offset="0.9316" stop-color="#006cde"/><stop offset="0.9995" stop-color="#006cde"/></radialGradient>
</defs>
<path d="M320.2,1980.6 L320.2,1978.0 L320.2,1975.4 L320.3,1972.8 L320.3,1970.3 L320.4,1967.7 L320.5,1965.1 L320.6,1962.5 L320.7,1960.0 L320.9,1957.4 L321.0,1954.8 L321.2,1952.3 L321.4,1949.7 L321.6,1947.2 L321.9,1944.6 L322.1,1942.1 L322.4,1939.6 L322.7,1937.0 L323.0,1934.5 L323.3,1932.0 L323.6,1929.5 L324.0,1927.0 L324.3,1924.5 L324.7,1922.0 L325.1,1919.5 L325.6,1917.0 L326.0,1914.5 L326.4,1912.0 L326.9,1909.6 L327.4,1907.1 L327.9,1904.7 L328.4,1902.2 L329.0,1899.8 L329.5,1897.4 L330.1,1895.0 L330.7,1892.5 L331.3,1890.1 L331.9,1887.7 L332.6,1885.4 L333.2,1883.0 L333.9,1880.6 L334.6,1878.3 L335.3,1875.9 L336.0,1873.6 L336.7,1871.3 L337.5,1868.9 L338.2,1866.6 L339.0,1864.3 L339.8,1862.0 L340.6,1859.8 L341.5,1857.5 L342.3,1855.2 L343.2,1853.0 L344.1,1850.8 L345.0,1848.6 L345.9,1846.3 L346.8,1844.2 L347.7,1842.0 L348.7,1839.8 L349.7,1837.6 L350.7,1835.5 L351.7,1833.4 L352.7,1831.2 L353.7,1829.1 L354.7,1827.0 L355.8,1825.0 L356.9,1822.9 L358.0,1820.8 L359.1,1818.8 L360.2,1816.8 L361.3,1814.8 L362.5,1812.8 L363.6,1810.8 L364.8,1808.8 L366.0,1806.9 L367.2,1804.9 L368.4,1803.0 L369.7,1801.1 L370.9,1799.2 L372.2,1797.3 L373.4,1795.5 L374.7,1793.6 L376.0,1791.8 L377.3,1790.0 L378.6,1788.2 L380.0,1786.4 L381.3,1784.6 L382.7,1782.9 L384.1,1781.1 L385.5,1779.4 L386.9,1777.7 L388.3,1776.1 L389.7,1774.4 L391.1,1772.7 L392.6,1771.1 L394.0,1769.5 L395.5,1767.9 L397.0,1766.3 L398.5,1764.8 L400.0,1763.2 L401.5,1761.7 L403.0,1760.2 L404.6,1758.7 L406.1,1757.3 L407.7,1755.8 L409.3,1754.4 L410.9,1753.0 L412.5,1751.6 L414.1,1750.2 L415.7,1748.9 L417.3,1747.6 L418.9,1746.3 L420.6,1745.0 L422.2,1743.7 L423.9,1742.4 L425.6,1741.2 L427.3,1740.0 L428.9,1738.8 L430.6,1737.6 L432.4,1736.5 L434.1,1735.3 L435.8,1734.2 L437.5,1733.1 L439.3,1732.1 L441.0,1731.0 L442.8,1730.0 L444.6,1729.0 L446.3,1728.0 L448.1,1727.0 L449.9,1726.1 L451.7,1725.2 L453.5,1724.3 L455.3,1723.4 L457.2,1722.5 L459.0,1721.7 L460.8,1720.9 L462.7,1720.1 L464.5,1719.3 L466.4,1718.5 L468.2,1717.8 L470.1,1717.1 L472.0,1716.4 L473.8,1715.7 L475.7,1715.1 L477.6,1714.5 L479.5,1713.9 L622.3,1669.3 L624.1,1668.8 L625.8,1668.3 L627.6,1667.8 L629.4,1667.4 L631.2,1666.9 L633.0,1666.5 L634.8,1666.1 L636.5,1665.7 L638.3,1665.4 L640.1,1665.0 L641.9,1664.7 L643.8,1664.4 L645.6,1664.2 L647.4,1663.9 L649.2,1663.7 L651.0,1663.5 L652.8,1663.3 L654.6,1663.2 L656.5,1663.0 L658.3,1662.9 L660.1,1662.8 L662.0,1662.8 L663.8,1662.7 L665.6,1662.7 L667.4,1662.7 L669.3,1662.7 L671.1,1662.8 L673.0,1662.8 L674.8,1662.9 L676.6,1663.0 L678.5,1663.1 L680.3,1663.3 L682.1,1663.5 L684.0,1663.7 L685.8,1663.9 L687.6,1664.1 L689.5,1664.4 L691.3,1664.7 L693.2,1665.0 L695.0,1665.3 L696.8,1665.7 L698.6,1666.1 L700.5,1666.5 L702.3,1666.9 L704.1,1667.3 L706.0,1667.8 L707.8,1668.3 L709.6,1668.8 L711.4,1669.3 L713.2,1669.9 L715.1,1670.4 L716.9,1671.0 L718.7,1671.6 L720.5,1672.3 L722.3,1672.9 L724.1,1673.6 L725.9,1674.3 L727.7,1675.0 L729.5,1675.8 L731.3,1676.5 L733.0,1677.3 L734.8,1678.1 L736.6,1679.0 L738.4,1679.8 L740.1,1680.7 L741.9,1681.6 L743.7,1682.5 L745.4,1683.4 L747.2,1684.4 L748.9,1685.3 L750.6,1686.3 L752.4,1687.4 L754.1,1688.4 L755.8,1689.4 L757.5,1690.5 L759.2,1691.6 L760.9,1692.7 L762.6,1693.9 L764.3,1695.0 L766.0,1696.2 L767.7,1697.4 L769.4,1698.6 L771.0,1699.8 L772.7,1701.1 L774.3,1702.4 L776.0,1703.7 L777.6,1705.0 L779.3,1706.3 L780.9,1707.6 L782.5,1709.0 L784.1,1710.4 L785.7,1711.8 L787.3,1713.2 L788.9,1714.7 L790.4,1716.1 L792.0,1717.6 L793.6,1719.1 L795.1,1720.6 L796.7,1722.1 L798.2,1723.7 L799.7,1725.3 L801.2,1726.8 L802.7,1728.5 L804.2,1730.1 L805.7,1731.7 L807.2,1733.4 L808.7,1735.0 L810.1,1736.7 L811.6,1738.4 L813.0,1740.1 L814.4,1741.9 L815.9,1743.6 L817.3,1745.4 L818.7,1747.2 L820.1,1749.0 L821.4,1750.8 L822.8,1752.6 L824.1,1754.5 L825.5,1756.3 L826.8,1758.2 L828.1,1760.1 L829.5,1762.0 L830.8,1763.9 L832.0,1765.9 L833.3,1767.8 L834.6,1769.8 L835.8,1771.8 L837.1,1773.7 L838.3,1775.8 L839.5,1777.8 L840.7,1779.8 L841.9,1781.8 L843.1,1783.9 L844.3,1786.0 L845.4,1788.1 L846.6,1790.2 L847.7,1792.3 L848.8,1794.4 L849.9,1796.5 L851.0,1798.7 L852.1,1800.8 L853.2,1803.0 L854.2,1805.2 L855.3,1807.4 L856.3,1809.6 L857.3,1811.8 L858.3,1814.0 L859.3,1816.3 L860.3,1818.5 L861.2,1820.8 L862.2,1823.0 L863.1,1825.3 L864.0,1827.6 L865.0,1829.9 L865.8,1832.2 L866.7,1834.5 L867.6,1836.9 L868.4,1839.2 L869.3,1841.5 L870.1,1843.9 L870.9,1846.2 L871.7,1848.6 L872.5,1851.0 L873.2,1853.4 L874.0,1855.8 L874.7,1858.2 L875.4,1860.6 L876.1,1863.0 L876.8,1865.4 L877.5,1867.8 L878.2,1870.3 L878.8,1872.7 L879.4,1875.2 L880.0,1877.6 L880.6,1880.1 L881.2,1882.5 L881.8,1885.0 L882.3,1887.5 L882.9,1890.0 L883.4,1892.4 L883.9,1894.9 L884.4,1897.4 L884.9,1899.9 L885.3,1902.4 L885.8,1904.9 L886.2,1907.5 L886.6,1910.0 L887.0,1912.5 L887.4,1915.0 L887.8,1917.5 L888.1,1920.1 L888.5,1922.6 L888.8,1925.1 L889.1,1927.7 L889.4,1930.2 L889.6,1932.7 L889.9,1935.3 L890.1,1937.8 L890.4,1940.3 L890.6,1942.9 L890.8,1945.4 L891.0,1948.0 L891.1,1950.5 L891.3,1953.1 L891.4,1955.6 L891.5,1958.2 L891.6,1960.7 L891.7,1963.3 L891.7,1965.8 L891.8,1968.3 L891.8,1970.9 L891.8,1973.4 L891.8,1976.0 L891.8,1978.5 L891.8,1981.0 L891.7,1983.6 L891.7,1986.1 L891.6,1988.6 L891.5,1991.2 L891.4,1993.7 L891.3,1996.2 L891.1,1998.7 L891.0,2001.2 L890.8,2003.8 L890.6,2006.3 L890.4,2008.8 L890.2,2011.3 L889.9,2013.8 L889.7,2016.2 L889.4,2018.7 L889.1,2021.2 L888.8,2023.7 L888.5,2026.2 L888.2,2028.6 L887.8,2031.1 L887.5,2033.5 L887.1,2036.0 L886.7,2038.4 L886.3,2040.9 L885.8,2043.3 L885.4,2045.7 L884.9,2048.1 L884.5,2050.5 L884.0,2052.9 L883.5,2055.3 L882.9,2057.7 L882.4,2060.1 L881.8,2062.5 L881.3,2064.8 L880.7,2067.2 L880.1,2069.5 L879.5,2071.9 L878.9,2074.2 L878.2,2076.5 L877.6,2078.8 L876.9,2081.1 L876.2,2083.4 L875.5,2085.7 L874.8,2087.9 L874.1,2090.2 L873.3,2092.4 L872.5,2094.7 L871.8,2096.9 L871.0,2099.1 L870.2,2101.3 L869.4,2103.5 L868.5,2105.7 L867.7,2107.9 L866.8,2110.0 L865.9,2112.2 L865.0,2114.3 L864.1,2116.4 L863.2,2118.6 L862.3,2120.7 L861.3,2122.7 L860.4,2124.8 L859.4,2126.9 L858.4,2128.9 L857.4,2131.0 L856.4,2133.0 L855.4,2135.0 L854.3,2137.0 L853.3,2139.0 L852.2,2140.9 L851.1,2142.9 L850.1,2144.8 L849.0,2146.7 L847.8,2148.6 L846.7,2150.5 L845.6,2152.4 L844.4,2154.3 L843.2,2156.1 L842.1,2157.9 L840.9,2159.8 L839.7,2161.6 L838.4,2163.3 L837.2,2165.1 L836.0,2166.9 L834.7,2168.6 L833.5,2170.3 L832.2,2172.0 L830.9,2173.7 L829.6,2175.4 L828.3,2177.0 L827.0,2178.7 L825.6,2180.3 L824.3,2181.9 L822.9,2183.5 L821.6,2185.1 L820.2,2186.6 L818.8,2188.1 L817.4,2189.7 L816.0,2191.1 L814.6,2192.6 L813.2,2194.1 L811.7,2195.5 L810.3,2197.0 L808.8,2198.4 L807.4,2199.7 L805.9,2201.1 L804.4,2202.5 L802.9,2203.8 L801.4,2205.1 L799.9,2206.4 L798.4,2207.7 L796.8,2208.9 L795.3,2210.2 L793.7,2211.4 L792.2,2212.6 L790.6,2213.8 L789.0,2214.9 L787.5,2216.0 L785.9,2217.2 L784.3,2218.3 L782.7,2219.3 L781.0,2220.4 L779.4,2221.4 L777.8,2222.4 L776.2,2223.4 L774.5,2224.4 L772.9,2225.4 L771.2,2226.3 L769.5,2227.2 L767.9,2228.1 L766.2,2229.0 L764.5,2229.8 L762.8,2230.7 L761.1,2231.5 L759.4,2232.3 L757.7,2233.0 L756.0,2233.8 L634.0,2286.3 L632.2,2287.1 L630.3,2287.9 L628.4,2288.6 L626.6,2289.3 L624.7,2290.0 L622.8,2290.7 L620.9,2291.3 L619.1,2291.9 L617.2,2292.5 L615.3,2293.1 L613.4,2293.7 L611.4,2294.2 L609.5,2294.7 L607.6,2295.2 L605.7,2295.7 L603.8,2296.1 L601.8,2296.5 L599.9,2296.9 L597.9,2297.3 L596.0,2297.7 L594.0,2298.0 L592.1,2298.3 L590.1,2298.6 L588.2,2298.9 L586.2,2299.1 L584.3,2299.3 L582.3,2299.5 L580.3,2299.7 L578.3,2299.9 L576.4,2300.0 L574.4,2300.1 L572.4,2300.2 L570.4,2300.2 L568.4,2300.3 L566.5,2300.3 L564.5,2300.3 L562.5,2300.3 L560.5,2300.2 L558.5,2300.1 L556.5,2300.0 L554.5,2299.9 L552.5,2299.8 L550.6,2299.6 L548.6,2299.4 L546.6,2299.2 L544.6,2299.0 L542.6,2298.7 L540.6,2298.5 L538.6,2298.2 L536.6,2297.8 L534.6,2297.5 L532.7,2297.1 L530.7,2296.8 L528.7,2296.3 L526.7,2295.9 L524.7,2295.5 L522.7,2295.0 L520.8,2294.5 L518.8,2294.0 L516.8,2293.4 L514.8,2292.8 L512.9,2292.3 L510.9,2291.6 L508.9,2291.0 L507.0,2290.4 L505.0,2289.7 L503.1,2289.0 L501.1,2288.3 L499.2,2287.5 L497.2,2286.8 L495.3,2286.0 L493.4,2285.2 L491.4,2284.3 L489.5,2283.5 L487.6,2282.6 L485.7,2281.7 L483.8,2280.8 L481.9,2279.9 L480.0,2278.9 L478.1,2277.9 L476.2,2277.0 L474.3,2275.9 L472.4,2274.9 L470.5,2273.8 L468.7,2272.8 L466.8,2271.7 L464.9,2270.5 L463.1,2269.4 L461.2,2268.2 L459.4,2267.0 L457.6,2265.8 L455.8,2264.6 L453.9,2263.4 L452.1,2262.1 L450.3,2260.8 L448.5,2259.5 L446.7,2258.2 L445.0,2256.9 L443.2,2255.5 L441.4,2254.1 L439.7,2252.7 L437.9,2251.3 L436.2,2249.9 L434.5,2248.4 L432.7,2247.0 L431.0,2245.5 L429.3,2244.0 L427.6,2242.4 L426.0,2240.9 L424.3,2239.3 L422.6,2237.7 L421.0,2236.1 L419.3,2234.5 L417.7,2232.9 L416.0,2231.2 L414.4,2229.6 L412.8,2227.9 L411.2,2226.2 L409.6,2224.4 L408.1,2222.7 L406.5,2221.0 L404.9,2219.2 L403.4,2217.4 L401.9,2215.6 L400.3,2213.8 L398.8,2211.9 L397.3,2210.1 L395.9,2208.2 L394.4,2206.3 L392.9,2204.4 L391.5,2202.5 L390.0,2200.6 L388.6,2198.6 L387.2,2196.7 L385.8,2194.7 L384.4,2192.7 L383.0,2190.7 L381.6,2188.7 L380.3,2186.7 L379.0,2184.6 L377.6,2182.5 L376.3,2180.5 L375.0,2178.4 L373.7,2176.3 L372.4,2174.2 L371.2,2172.0 L369.9,2169.9 L368.7,2167.8 L367.5,2165.6 L366.3,2163.4 L365.1,2161.2 L363.9,2159.0 L362.7,2156.8 L361.6,2154.6 L360.5,2152.3 L359.3,2150.1 L358.2,2147.8 L357.1,2145.6 L356.0,2143.3 L355.0,2141.0 L353.9,2138.7 L352.9,2136.4 L351.9,2134.1 L350.9,2131.7 L349.9,2129.4 L348.9,2127.0 L348.0,2124.7 L347.0,2122.3 L346.1,2119.9 L345.2,2117.5 L344.3,2115.1 L343.4,2112.7 L342.5,2110.3 L341.7,2107.9 L340.8,2105.5 L340.0,2103.0 L339.2,2100.6 L338.4,2098.1 L337.7,2095.7 L336.9,2093.2 L336.2,2090.7 L335.4,2088.2 L334.7,2085.8 L334.0,2083.3 L333.4,2080.8 L332.7,2078.3 L332.1,2075.7 L331.4,2073.2 L330.8,2070.7 L330.2,2068.2 L329.7,2065.6 L329.1,2063.1 L328.6,2060.6 L328.0,2058.0 L327.5,2055.5 L327.0,2052.9 L326.6,2050.4 L326.1,2047.8 L325.7,2045.2 L325.2,2042.7 L324.8,2040.1 L324.4,2037.5 L324.1,2034.9 L323.7,2032.4 L323.4,2029.8 L323.0,2027.2 L322.7,2024.6 L322.5,2022.0 L322.2,2019.4 L321.9,2016.8 L321.7,2014.3 L321.5,2011.7 L321.3,2009.1 L321.1,2006.5 L320.9,2003.9 L320.8,2001.3 L320.6,1998.7 L320.5,1996.1 L320.4,1993.5 L320.3,1990.9 L320.3,1988.3 L320.2,1985.7 L320.2,1983.2Z" fill="url(#gDisc)" stroke="#1e1e1e" stroke-width="1.3"/>
<path d="M619.9,2287.9 L616.8,2288.9 L613.6,2289.9 L610.4,2290.8 L607.1,2291.6 L603.9,2292.4 L600.6,2293.1 L597.4,2293.8 L594.1,2294.3 L590.8,2294.9 L587.5,2295.3 L584.2,2295.7 L580.9,2296.0 L577.6,2296.3 L574.3,2296.5 L570.9,2296.6 L567.6,2296.7 L564.2,2296.7 L560.9,2296.6 L557.6,2296.5 L554.2,2296.3 L550.9,2296.0 L547.5,2295.7 L544.2,2295.3 L540.8,2294.9 L537.5,2294.3 L534.1,2293.8 L530.8,2293.1 L527.4,2292.4 L524.1,2291.6 L520.8,2290.8 L517.4,2289.9 L514.1,2288.9 L510.8,2287.9 L507.5,2286.8 L504.2,2285.6 L501.0,2284.4 L497.7,2283.1 L494.4,2281.7 L491.2,2280.3 L487.9,2278.8 L484.7,2277.3 L481.5,2275.7 L478.3,2274.1 L475.1,2272.3 L472.0,2270.6 L468.8,2268.7 L465.7,2266.8 L462.6,2264.9 L459.5,2262.9 L456.5,2260.8 L453.4,2258.7 L450.4,2256.5 L447.4,2254.2 L444.4,2251.9 L441.4,2249.6 L438.5,2247.2 L435.6,2244.7 L432.7,2242.2 L429.9,2239.6 L427.0,2237.0 L424.2,2234.3 L421.4,2231.6 L418.7,2228.8 L416.0,2226.0 L413.3,2223.1 L410.6,2220.2 L408.0,2217.2 L405.4,2214.2 L402.8,2211.2 L400.3,2208.0 L397.8,2204.9 L395.3,2201.7 L392.9,2198.4 L390.5,2195.1 L388.1,2191.8 L385.8,2188.4 L383.5,2185.0 L381.2,2181.5 L379.0,2178.0 L376.8,2174.5 L374.7,2170.9 L372.6,2167.3 L370.5,2163.7 L368.5,2160.0 L366.5,2156.3 L364.6,2152.5 L362.7,2148.7 L360.8,2144.9 L359.0,2141.1 L357.2,2137.2 L355.4,2133.3 L353.8,2129.3 L352.1,2125.4 L350.5,2121.4 L348.9,2117.3 L347.4,2113.3 L345.9,2109.2 L344.5,2105.1 L343.1,2101.0 L341.8,2096.9 L340.5,2092.7 L339.3,2088.5 L338.1,2084.3 L336.9,2080.1 L335.8,2075.9 L334.7,2071.6 L333.7,2067.3 L332.8,2063.1 L331.9,2058.8 L331.0,2054.5 L330.2,2050.1 L329.4,2045.8 L328.7,2041.5 L328.0,2037.1 L327.4,2032.8 L326.8,2028.4 L326.3,2024.1 L325.8,2019.7 L325.4,2015.3 L325.0,2010.9 L324.7,2006.6 L324.4,2002.2 L324.2,1997.8 L324.0,1993.4 L323.9,1989.0 L323.8,1984.7 L323.8,1980.3 L323.8,1975.9 L323.9,1971.6 L324.0,1967.2 L324.2,1962.9 L324.4,1958.5 L324.7,1954.2 L325.0,1949.9 L325.4,1945.6 L325.8,1941.3 L326.3,1937.0 L326.8,1932.8 L327.4,1928.5 L328.0,1924.3 L328.7,1920.1 L329.4,1915.9 L330.2,1911.7 L331.0,1907.6 L331.8,1903.5 L332.7,1899.4 L333.7,1895.3 L334.7,1891.2 L335.8,1887.2 L336.9,1883.2 L338.0,1879.2 L339.2,1875.2 L340.5,1871.3 L341.8,1867.4 L343.1,1863.5 L344.5,1859.7 L345.9,1855.9 L347.4,1852.1 L348.9,1848.4 L350.5,1844.7 L352.1,1841.0 L353.7,1837.4 L355.4,1833.8 L357.1,1830.2 L358.9,1826.7 L360.7,1823.2 L362.6,1819.8 L364.5,1816.4 L366.4,1813.0 L368.4,1809.7 L370.5,1806.4 L372.5,1803.2 L374.6,1800.0 L376.8,1796.9 L378.9,1793.8 L381.2,1790.8 L383.4,1787.8 L385.7,1784.8 L388.0,1781.9 L390.4,1779.1 L392.8,1776.3 L395.2,1773.5 L397.7,1770.8 L400.2,1768.2 L402.7,1765.6 L405.3,1763.0 L407.9,1760.5 L410.5,1758.1 L413.2,1755.7 L415.9,1753.4 L418.6,1751.1 L421.4,1748.9 L424.1,1746.7 L426.9,1744.6 L429.8,1742.6 L432.6,1740.6 L435.5,1738.7 L438.4,1736.8 L441.4,1735.0 L444.3,1733.3" fill="none" stroke="#333" stroke-width="1.1"/>
<path d="M530.4,1697.7 C532,1708.8 537.1,1747 540,1764 C542.9,1781 544.3,1781.5 548,1800 C551.7,1818.5 557.2,1850 562,1875 C566.8,1900 571.4,1926.5 576.6,1949.8 C581.8,1973.1 587.4,1994 593,2015 C598.6,2036 601.4,2048 610,2075.5 C618.6,2103 633.3,2147.6 644.5,2180 C655.7,2212.4 671.6,2254.9 677,2269.9" fill="none" stroke="#222" stroke-width="1.1"/>
<path d="M320.2,1980.6 L320.2,1978.0 L320.2,1975.4 L320.3,1972.8 L320.3,1970.3 L320.4,1967.7 L320.5,1965.1 L320.6,1962.5 L320.7,1960.0 L320.9,1957.4 L321.0,1954.8 L321.2,1952.3 L321.4,1949.7 L321.6,1947.2 L321.9,1944.6 L322.1,1942.1 L322.4,1939.6 L322.7,1937.0 L323.0,1934.5 L323.3,1932.0 L323.6,1929.5 L324.0,1927.0 L324.3,1924.5 L324.7,1922.0 L325.1,1919.5 L325.6,1917.0 L326.0,1914.5 L326.4,1912.0 L326.9,1909.6 L327.4,1907.1 L327.9,1904.7 L328.4,1902.2 L329.0,1899.8 L329.5,1897.4 L330.1,1895.0 L330.7,1892.5 L331.3,1890.1 L331.9,1887.7 L332.6,1885.4 L333.2,1883.0 L333.9,1880.6 L334.6,1878.3 L335.3,1875.9 L336.0,1873.6 L336.7,1871.3 L337.5,1868.9 L338.2,1866.6 L339.0,1864.3 L339.8,1862.0 L340.6,1859.8 L341.5,1857.5 L342.3,1855.2 L343.2,1853.0 L344.1,1850.8 L345.0,1848.6 L345.9,1846.3 L346.8,1844.2 L347.7,1842.0 L348.7,1839.8 L349.7,1837.6 L350.7,1835.5 L351.7,1833.4 L352.7,1831.2 L353.7,1829.1 L354.7,1827.0 L355.8,1825.0 L356.9,1822.9 L358.0,1820.8 L359.1,1818.8 L360.2,1816.8 L361.3,1814.8 L362.5,1812.8 L363.6,1810.8 L364.8,1808.8 L366.0,1806.9 L367.2,1804.9 L368.4,1803.0 L369.7,1801.1 L370.9,1799.2 L372.2,1797.3 L373.4,1795.5 L374.7,1793.6 L376.0,1791.8 L377.3,1790.0 L378.6,1788.2 L380.0,1786.4 L381.3,1784.6 L382.7,1782.9 L384.1,1781.1 L385.5,1779.4 L386.9,1777.7 L388.3,1776.1 L389.7,1774.4 L391.1,1772.7 L392.6,1771.1 L394.0,1769.5 L395.5,1767.9 L397.0,1766.3 L398.5,1764.8 L400.0,1763.2 L401.5,1761.7 L403.0,1760.2 L404.6,1758.7 L406.1,1757.3 L407.7,1755.8 L409.3,1754.4 L410.9,1753.0 L412.5,1751.6 L414.1,1750.2 L415.7,1748.9 L417.3,1747.6 L418.9,1746.3 L420.6,1745.0 L422.2,1743.7 L423.9,1742.4 L425.6,1741.2 L427.3,1740.0 L428.9,1738.8 L430.6,1737.6 L432.4,1736.5 L434.1,1735.3 L435.8,1734.2 L437.5,1733.1 L439.3,1732.1 L441.0,1731.0 L442.8,1730.0 L444.6,1729.0 L446.3,1728.0 L448.1,1727.0 L449.9,1726.1 L451.7,1725.2 L453.5,1724.3 L455.3,1723.4 L457.2,1722.5 L459.0,1721.7 L460.8,1720.9 L462.7,1720.1 L464.5,1719.3 L466.4,1718.5 L468.2,1717.8 L470.1,1717.1 L472.0,1716.4 L473.8,1715.7 L475.7,1715.1 L477.6,1714.5 L479.5,1713.9 L622.3,1669.3 L624.1,1668.8 L625.8,1668.3 L627.6,1667.8 L629.4,1667.4 L631.2,1666.9 L633.0,1666.5 L634.8,1666.1 L636.5,1665.7 L638.3,1665.4 L640.1,1665.0 L641.9,1664.7 L643.8,1664.4 L645.6,1664.2 L647.4,1663.9 L649.2,1663.7 L651.0,1663.5 L652.8,1663.3 L654.6,1663.2 L656.5,1663.0 L658.3,1662.9 L660.1,1662.8 L662.0,1662.8 L663.8,1662.7 L665.6,1662.7 L667.4,1662.7 L669.3,1662.7 L671.1,1662.8 L673.0,1662.8 L674.8,1662.9 L676.6,1663.0 L678.5,1663.1 L680.3,1663.3 L682.1,1663.5 L684.0,1663.7 L685.8,1663.9 L687.6,1664.1 L689.5,1664.4 L691.3,1664.7 L693.2,1665.0 L695.0,1665.3 L696.8,1665.7 L698.6,1666.1 L700.5,1666.5 L702.3,1666.9 L704.1,1667.3 L706.0,1667.8 L707.8,1668.3 L709.6,1668.8 L711.4,1669.3 L713.2,1669.9 L715.1,1670.4 L716.9,1671.0 L718.7,1671.6 L720.5,1672.3 L722.3,1672.9 L724.1,1673.6 L725.9,1674.3 L727.7,1675.0 L729.5,1675.8 L731.3,1676.5 L733.0,1677.3 L734.8,1678.1 L736.6,1679.0 L738.4,1679.8 L740.1,1680.7 L741.9,1681.6 L743.7,1682.5 L745.4,1683.4 L747.2,1684.4 L748.9,1685.3 L750.6,1686.3 L752.4,1687.4 L754.1,1688.4 L755.8,1689.4 L757.5,1690.5 L759.2,1691.6 L760.9,1692.7 L762.6,1693.9 L764.3,1695.0 L766.0,1696.2 L767.7,1697.4 L769.4,1698.6 L771.0,1699.8 L772.7,1701.1 L774.3,1702.4 L776.0,1703.7 L777.6,1705.0 L779.3,1706.3 L780.9,1707.6 L782.5,1709.0 L784.1,1710.4 L785.7,1711.8 L787.3,1713.2 L788.9,1714.7 L790.4,1716.1 L792.0,1717.6 L793.6,1719.1 L795.1,1720.6 L796.7,1722.1 L798.2,1723.7 L799.7,1725.3 L801.2,1726.8 L802.7,1728.5 L804.2,1730.1 L805.7,1731.7 L807.2,1733.4 L808.7,1735.0 L810.1,1736.7 L811.6,1738.4 L813.0,1740.1 L814.4,1741.9 L815.9,1743.6 L817.3,1745.4 L818.7,1747.2 L820.1,1749.0 L821.4,1750.8 L822.8,1752.6 L824.1,1754.5 L825.5,1756.3 L826.8,1758.2 L828.1,1760.1 L829.5,1762.0 L830.8,1763.9 L832.0,1765.9 L833.3,1767.8 L834.6,1769.8 L835.8,1771.8 L837.1,1773.7 L838.3,1775.8 L839.5,1777.8 L840.7,1779.8 L841.9,1781.8 L843.1,1783.9 L844.3,1786.0 L845.4,1788.1 L846.6,1790.2 L847.7,1792.3 L848.8,1794.4 L849.9,1796.5 L851.0,1798.7 L852.1,1800.8 L853.2,1803.0 L854.2,1805.2 L855.3,1807.4 L856.3,1809.6 L857.3,1811.8 L858.3,1814.0 L859.3,1816.3 L860.3,1818.5 L861.2,1820.8 L862.2,1823.0 L863.1,1825.3 L864.0,1827.6 L865.0,1829.9 L865.8,1832.2 L866.7,1834.5 L867.6,1836.9 L868.4,1839.2 L869.3,1841.5 L870.1,1843.9 L870.9,1846.2 L871.7,1848.6 L872.5,1851.0 L873.2,1853.4 L874.0,1855.8 L874.7,1858.2 L875.4,1860.6 L876.1,1863.0 L876.8,1865.4 L877.5,1867.8 L878.2,1870.3 L878.8,1872.7 L879.4,1875.2 L880.0,1877.6 L880.6,1880.1 L881.2,1882.5 L881.8,1885.0 L882.3,1887.5 L882.9,1890.0 L883.4,1892.4 L883.9,1894.9 L884.4,1897.4 L884.9,1899.9 L885.3,1902.4 L885.8,1904.9 L886.2,1907.5 L886.6,1910.0 L887.0,1912.5 L887.4,1915.0 L887.8,1917.5 L888.1,1920.1 L888.5,1922.6 L888.8,1925.1 L889.1,1927.7 L889.4,1930.2 L889.6,1932.7 L889.9,1935.3 L890.1,1937.8 L890.4,1940.3 L890.6,1942.9 L890.8,1945.4 L891.0,1948.0 L891.1,1950.5 L891.3,1953.1 L891.4,1955.6 L891.5,1958.2 L891.6,1960.7 L891.7,1963.3 L891.7,1965.8 L891.8,1968.3 L891.8,1970.9 L891.8,1973.4 L891.8,1976.0 L891.8,1978.5 L891.8,1981.0 L891.7,1983.6 L891.7,1986.1 L891.6,1988.6 L891.5,1991.2 L891.4,1993.7 L891.3,1996.2 L891.1,1998.7 L891.0,2001.2 L890.8,2003.8 L890.6,2006.3 L890.4,2008.8 L890.2,2011.3 L889.9,2013.8 L889.7,2016.2 L889.4,2018.7 L889.1,2021.2 L888.8,2023.7 L888.5,2026.2 L888.2,2028.6 L887.8,2031.1 L887.5,2033.5 L887.1,2036.0 L886.7,2038.4 L886.3,2040.9 L885.8,2043.3 L885.4,2045.7 L884.9,2048.1 L884.5,2050.5 L884.0,2052.9 L883.5,2055.3 L882.9,2057.7 L882.4,2060.1 L881.8,2062.5 L881.3,2064.8 L880.7,2067.2 L880.1,2069.5 L879.5,2071.9 L878.9,2074.2 L878.2,2076.5 L877.6,2078.8 L876.9,2081.1 L876.2,2083.4 L875.5,2085.7 L874.8,2087.9 L874.1,2090.2 L873.3,2092.4 L872.5,2094.7 L871.8,2096.9 L871.0,2099.1 L870.2,2101.3 L869.4,2103.5 L868.5,2105.7 L867.7,2107.9 L866.8,2110.0 L865.9,2112.2 L865.0,2114.3 L864.1,2116.4 L863.2,2118.6 L862.3,2120.7 L861.3,2122.7 L860.4,2124.8 L859.4,2126.9 L858.4,2128.9 L857.4,2131.0 L856.4,2133.0 L855.4,2135.0 L854.3,2137.0 L853.3,2139.0 L852.2,2140.9 L851.1,2142.9 L850.1,2144.8 L849.0,2146.7 L847.8,2148.6 L846.7,2150.5 L845.6,2152.4 L844.4,2154.3 L843.2,2156.1 L842.1,2157.9 L840.9,2159.8 L839.7,2161.6 L838.4,2163.3 L837.2,2165.1 L836.0,2166.9 L834.7,2168.6 L833.5,2170.3 L832.2,2172.0 L830.9,2173.7 L829.6,2175.4 L828.3,2177.0 L827.0,2178.7 L825.6,2180.3 L824.3,2181.9 L822.9,2183.5 L821.6,2185.1 L820.2,2186.6 L818.8,2188.1 L817.4,2189.7 L816.0,2191.1 L814.6,2192.6 L813.2,2194.1 L811.7,2195.5 L810.3,2197.0 L808.8,2198.4 L807.4,2199.7 L805.9,2201.1 L804.4,2202.5 L802.9,2203.8 L801.4,2205.1 L799.9,2206.4 L798.4,2207.7 L796.8,2208.9 L795.3,2210.2 L793.7,2211.4 L792.2,2212.6 L790.6,2213.8 L789.0,2214.9 L787.5,2216.0 L785.9,2217.2 L784.3,2218.3 L782.7,2219.3 L781.0,2220.4 L779.4,2221.4 L777.8,2222.4 L776.2,2223.4 L774.5,2224.4 L772.9,2225.4 L771.2,2226.3 L769.5,2227.2 L767.9,2228.1 L766.2,2229.0 L764.5,2229.8 L762.8,2230.7 L761.1,2231.5 L759.4,2232.3 L757.7,2233.0 L756.0,2233.8 L634.0,2286.3 L632.2,2287.1 L630.3,2287.9 L628.4,2288.6 L626.6,2289.3 L624.7,2290.0 L622.8,2290.7 L620.9,2291.3 L619.1,2291.9 L617.2,2292.5 L615.3,2293.1 L613.4,2293.7 L611.4,2294.2 L609.5,2294.7 L607.6,2295.2 L605.7,2295.7 L603.8,2296.1 L601.8,2296.5 L599.9,2296.9 L597.9,2297.3 L596.0,2297.7 L594.0,2298.0 L592.1,2298.3 L590.1,2298.6 L588.2,2298.9 L586.2,2299.1 L584.3,2299.3 L582.3,2299.5 L580.3,2299.7 L578.3,2299.9 L576.4,2300.0 L574.4,2300.1 L572.4,2300.2 L570.4,2300.2 L568.4,2300.3 L566.5,2300.3 L564.5,2300.3 L562.5,2300.3 L560.5,2300.2 L558.5,2300.1 L556.5,2300.0 L554.5,2299.9 L552.5,2299.8 L550.6,2299.6 L548.6,2299.4 L546.6,2299.2 L544.6,2299.0 L542.6,2298.7 L540.6,2298.5 L538.6,2298.2 L536.6,2297.8 L534.6,2297.5 L532.7,2297.1 L530.7,2296.8 L528.7,2296.3 L526.7,2295.9 L524.7,2295.5 L522.7,2295.0 L520.8,2294.5 L518.8,2294.0 L516.8,2293.4 L514.8,2292.8 L512.9,2292.3 L510.9,2291.6 L508.9,2291.0 L507.0,2290.4 L505.0,2289.7 L503.1,2289.0 L501.1,2288.3 L499.2,2287.5 L497.2,2286.8 L495.3,2286.0 L493.4,2285.2 L491.4,2284.3 L489.5,2283.5 L487.6,2282.6 L485.7,2281.7 L483.8,2280.8 L481.9,2279.9 L480.0,2278.9 L478.1,2277.9 L476.2,2277.0 L474.3,2275.9 L472.4,2274.9 L470.5,2273.8 L468.7,2272.8 L466.8,2271.7 L464.9,2270.5 L463.1,2269.4 L461.2,2268.2 L459.4,2267.0 L457.6,2265.8 L455.8,2264.6 L453.9,2263.4 L452.1,2262.1 L450.3,2260.8 L448.5,2259.5 L446.7,2258.2 L445.0,2256.9 L443.2,2255.5 L441.4,2254.1 L439.7,2252.7 L437.9,2251.3 L436.2,2249.9 L434.5,2248.4 L432.7,2247.0 L431.0,2245.5 L429.3,2244.0 L427.6,2242.4 L426.0,2240.9 L424.3,2239.3 L422.6,2237.7 L421.0,2236.1 L419.3,2234.5 L417.7,2232.9 L416.0,2231.2 L414.4,2229.6 L412.8,2227.9 L411.2,2226.2 L409.6,2224.4 L408.1,2222.7 L406.5,2221.0 L404.9,2219.2 L403.4,2217.4 L401.9,2215.6 L400.3,2213.8 L398.8,2211.9 L397.3,2210.1 L395.9,2208.2 L394.4,2206.3 L392.9,2204.4 L391.5,2202.5 L390.0,2200.6 L388.6,2198.6 L387.2,2196.7 L385.8,2194.7 L384.4,2192.7 L383.0,2190.7 L381.6,2188.7 L380.3,2186.7 L379.0,2184.6 L377.6,2182.5 L376.3,2180.5 L375.0,2178.4 L373.7,2176.3 L372.4,2174.2 L371.2,2172.0 L369.9,2169.9 L368.7,2167.8 L367.5,2165.6 L366.3,2163.4 L365.1,2161.2 L363.9,2159.0 L362.7,2156.8 L361.6,2154.6 L360.5,2152.3 L359.3,2150.1 L358.2,2147.8 L357.1,2145.6 L356.0,2143.3 L355.0,2141.0 L353.9,2138.7 L352.9,2136.4 L351.9,2134.1 L350.9,2131.7 L349.9,2129.4 L348.9,2127.0 L348.0,2124.7 L347.0,2122.3 L346.1,2119.9 L345.2,2117.5 L344.3,2115.1 L343.4,2112.7 L342.5,2110.3 L341.7,2107.9 L340.8,2105.5 L340.0,2103.0 L339.2,2100.6 L338.4,2098.1 L337.7,2095.7 L336.9,2093.2 L336.2,2090.7 L335.4,2088.2 L334.7,2085.8 L334.0,2083.3 L333.4,2080.8 L332.7,2078.3 L332.1,2075.7 L331.4,2073.2 L330.8,2070.7 L330.2,2068.2 L329.7,2065.6 L329.1,2063.1 L328.6,2060.6 L328.0,2058.0 L327.5,2055.5 L327.0,2052.9 L326.6,2050.4 L326.1,2047.8 L325.7,2045.2 L325.2,2042.7 L324.8,2040.1 L324.4,2037.5 L324.1,2034.9 L323.7,2032.4 L323.4,2029.8 L323.0,2027.2 L322.7,2024.6 L322.5,2022.0 L322.2,2019.4 L321.9,2016.8 L321.7,2014.3 L321.5,2011.7 L321.3,2009.1 L321.1,2006.5 L320.9,2003.9 L320.8,2001.3 L320.6,1998.7 L320.5,1996.1 L320.4,1993.5 L320.3,1990.9 L320.3,1988.3 L320.2,1985.7 L320.2,1983.2Z" fill="url(#gTint)"/>
<path d="M626.1,2246.3 L623.2,2246.6 L620.3,2246.9 L617.4,2247.2 L614.5,2247.4 L611.6,2247.5 L608.7,2247.7 L605.8,2247.7 L602.9,2247.7 L600.0,2247.7 L597.1,2247.6 L594.2,2247.5 L591.3,2247.3 L588.4,2247.1 L585.5,2246.8 L582.6,2246.5 L579.7,2246.2 L576.8,2245.8 L573.9,2245.3 L571.1,2244.8 L568.2,2244.3 L565.3,2243.7 L562.5,2243.0 L559.6,2242.3 L556.8,2241.6 L553.9,2240.8 L551.1,2240.0 L548.3,2239.1 L545.5,2238.2 L542.7,2237.3 L539.9,2236.2 L537.1,2235.2 L534.4,2234.1 L531.6,2233.0 L528.9,2231.8 L526.2,2230.5 L523.5,2229.3 L520.8,2227.9 L518.1,2226.6 L515.4,2225.2 L512.8,2223.7 L510.2,2222.2 L507.6,2220.7 L505.0,2219.1 L502.4,2217.5 L499.8,2215.9 L497.3,2214.2 L494.8,2212.4 L492.3,2210.7 L489.8,2208.8 L487.4,2207.0 L484.9,2205.1 L482.5,2203.1 L480.2,2201.2 L477.8,2199.1 L475.5,2197.1 L473.1,2195.0 L470.9,2192.9 L468.6,2190.7 L466.4,2188.5 L464.1,2186.3 L462.0,2184.0 L459.8,2181.7 L457.7,2179.4 L455.6,2177.0 L453.5,2174.6 L451.4,2172.1 L449.4,2169.6 L447.4,2167.1 L445.5,2164.6 L443.5,2162.0 L441.6,2159.4 L439.7,2156.8 L437.9,2154.1 L436.1,2151.4 L434.3,2148.7 L432.6,2146.0 L430.9,2143.2 L429.2,2140.4 L427.5,2137.6 L425.9,2134.7 L424.3,2131.8 L422.8,2128.9 L421.3,2126.0 L419.8,2123.0 L418.4,2120.1 L416.9,2117.1 L415.6,2114.0 L414.2,2111.0 L412.9,2107.9 L411.7,2104.8 L410.4,2101.7 L409.2,2098.6 L408.1,2095.4 L407.0,2092.3 L405.9,2089.1 L404.8,2085.9 L403.8,2082.7 L402.9,2079.5 L401.9,2076.2 L401.0,2073.0 L400.2,2069.7 L399.4,2066.4 L398.6,2063.1 L397.8,2059.8 L397.1,2056.5 L396.5,2053.1 L395.9,2049.8 L395.3,2046.4 L394.7,2043.1 L394.2,2039.7 L393.8,2036.3 L393.3,2032.9 L393.0,2029.6 L392.6,2026.2 L392.3,2022.8 L392.0,2019.4 L391.8,2015.9 L391.6,2012.5 L391.5,2009.1 L391.4,2005.7 L391.3,2002.3 L391.3,1998.9 L391.3,1995.5 L391.4,1992.0 L391.5,1988.6 L391.6,1985.2 L391.8,1981.8 L392.0,1978.4 L392.2,1975.0 L392.5,1971.6 L392.9,1968.2 L393.2,1964.8 L393.7,1961.5 L394.1,1958.1 L394.6,1954.7 L395.1,1951.4 L395.7,1948.0 L396.3,1944.7 L397.0,1941.4 L397.7,1938.1 L398.4,1934.8 L399.2,1931.5 L400.0,1928.2 L400.8,1924.9 L401.7,1921.7 L402.6,1918.5 L403.6,1915.2 L404.6,1912.0 L405.6,1908.9 L406.7,1905.7 L407.8,1902.5 L409.0,1899.4 L410.1,1896.3 L411.4,1893.2 L412.6,1890.2 L413.9,1887.1 L415.2,1884.1 L416.6,1881.1 L418.0,1878.1 L419.4,1875.1 L420.9,1872.2 L422.4,1869.3 L424.0,1866.4 L425.5,1863.6 L427.1,1860.7 L428.8,1857.9 L430.4,1855.1 L432.2,1852.4 L433.9,1849.7 L435.7,1847.0 L437.5,1844.3 L439.3,1841.7 L441.2,1839.1 L443.1,1836.5 L445.0,1834.0 L446.9,1831.4 L448.9,1829.0 L450.9,1826.5 L453.0,1824.1 L455.0,1821.7 L457.1,1819.4 L459.3,1817.1 L461.4,1814.8 L463.6,1812.6 L465.8,1810.4 L468.0,1808.2 L470.3,1806.1 L472.6,1804.0 L474.9,1801.9 L477.2,1799.9 L479.6,1797.9 L482.0,1796.0 L484.4,1794.1 L486.8,1792.2 L489.2,1790.4 L491.7,1788.6 L494.2,1786.9 L496.7,1785.2 L499.2,1783.5 L501.8,1781.9 L504.3,1780.3 L506.9,1778.8 L509.5,1777.3 L512.1,1775.8 L514.8,1774.4 L517.4,1773.1 L520.1,1771.7 L522.8,1770.5 L525.5,1769.2 L528.2,1768.0 L530.9,1766.9 L533.7,1765.8 L536.4,1764.7 L539.2,1763.7 L542.0,1762.8 L544.8,1761.9 L547.6,1761.0 L550.4,1760.2 L553.2,1759.4 L556.1,1758.6 L558.9,1757.9 L561.8,1757.3 L564.6,1756.7 L567.5,1756.2 L570.4,1755.6 L573.2,1755.2 L576.1,1754.8 L579.0,1754.4 L581.9,1754.1 L584.8,1753.8 L587.7,1753.6 L590.6,1753.4 L593.5,1753.3 L596.4,1753.2 L599.3,1753.2 L602.2,1753.2 L605.1,1753.3 L608.0,1753.4 L610.9,1753.5 L613.8,1753.7 L620.3,1753.7 L617.4,1753.5 L614.5,1753.4 L611.6,1753.3 L608.7,1753.2 L605.8,1753.2 L602.9,1753.2 L600.0,1753.3 L597.1,1753.4 L594.2,1753.6 L591.3,1753.8 L588.4,1754.1 L585.5,1754.4 L582.6,1754.8 L579.7,1755.2 L576.9,1755.6 L574.0,1756.2 L571.1,1756.7 L568.3,1757.3 L565.4,1757.9 L562.6,1758.6 L559.7,1759.4 L556.9,1760.2 L554.1,1761.0 L551.3,1761.9 L548.5,1762.8 L545.7,1763.7 L542.9,1764.7 L540.2,1765.8 L537.4,1766.9 L534.7,1768.0 L532.0,1769.2 L529.3,1770.5 L526.6,1771.7 L523.9,1773.1 L521.3,1774.4 L518.6,1775.8 L516.0,1777.3 L513.4,1778.8 L510.8,1780.3 L508.3,1781.9 L505.7,1783.5 L503.2,1785.2 L500.7,1786.9 L498.2,1788.6 L495.7,1790.4 L493.3,1792.2 L490.9,1794.1 L488.5,1796.0 L486.1,1797.9 L483.7,1799.9 L481.4,1801.9 L479.1,1804.0 L476.8,1806.1 L474.5,1808.2 L472.3,1810.4 L470.1,1812.6 L467.9,1814.8 L465.8,1817.1 L463.6,1819.4 L461.5,1821.7 L459.5,1824.1 L457.4,1826.5 L455.4,1829.0 L453.4,1831.4 L451.5,1834.0 L449.6,1836.5 L447.7,1839.1 L445.8,1841.7 L444.0,1844.3 L442.2,1847.0 L440.4,1849.7 L438.7,1852.4 L436.9,1855.1 L435.3,1857.9 L433.6,1860.7 L432.0,1863.6 L430.5,1866.4 L428.9,1869.3 L427.4,1872.2 L425.9,1875.1 L424.5,1878.1 L423.1,1881.1 L421.7,1884.1 L420.4,1887.1 L419.1,1890.2 L417.9,1893.2 L416.6,1896.3 L415.5,1899.4 L414.3,1902.5 L413.2,1905.7 L412.1,1908.9 L411.1,1912.0 L410.1,1915.2 L409.1,1918.5 L408.2,1921.7 L407.3,1924.9 L406.5,1928.2 L405.7,1931.5 L404.9,1934.8 L404.2,1938.1 L403.5,1941.4 L402.8,1944.7 L402.2,1948.0 L401.6,1951.4 L401.1,1954.7 L400.6,1958.1 L400.2,1961.5 L399.7,1964.8 L399.4,1968.2 L399.0,1971.6 L398.7,1975.0 L398.5,1978.4 L398.3,1981.8 L398.1,1985.2 L398.0,1988.6 L397.9,1992.0 L397.8,1995.5 L397.8,1998.9 L397.8,2002.3 L397.9,2005.7 L398.0,2009.1 L398.1,2012.5 L398.3,2015.9 L398.5,2019.4 L398.8,2022.8 L399.1,2026.2 L399.5,2029.6 L399.8,2032.9 L400.3,2036.3 L400.7,2039.7 L401.2,2043.1 L401.8,2046.4 L402.4,2049.8 L403.0,2053.1 L403.6,2056.5 L404.3,2059.8 L405.1,2063.1 L405.9,2066.4 L406.7,2069.7 L407.5,2073.0 L408.4,2076.2 L409.4,2079.5 L410.3,2082.7 L411.3,2085.9 L412.4,2089.1 L413.5,2092.3 L414.6,2095.4 L415.7,2098.6 L416.9,2101.7 L418.2,2104.8 L419.4,2107.9 L420.7,2111.0 L422.1,2114.0 L423.4,2117.1 L424.9,2120.1 L426.3,2123.0 L427.8,2126.0 L429.3,2128.9 L430.8,2131.8 L432.4,2134.7 L434.0,2137.6 L435.7,2140.4 L437.4,2143.2 L439.1,2146.0 L440.8,2148.7 L442.6,2151.4 L444.4,2154.1 L446.2,2156.8 L448.1,2159.4 L450.0,2162.0 L452.0,2164.6 L453.9,2167.1 L455.9,2169.6 L457.9,2172.1 L460.0,2174.6 L462.1,2177.0 L464.2,2179.4 L466.3,2181.7 L468.5,2184.0 L470.6,2186.3 L472.9,2188.5 L475.1,2190.7 L477.4,2192.9 L479.6,2195.0 L482.0,2197.1 L484.3,2199.1 L486.7,2201.2 L489.0,2203.1 L491.4,2205.1 L493.9,2207.0 L496.3,2208.8 L498.8,2210.7 L501.3,2212.4 L503.8,2214.2 L506.3,2215.9 L508.9,2217.5 L511.5,2219.1 L514.1,2220.7 L516.7,2222.2 L519.3,2223.7 L521.9,2225.2 L524.6,2226.6 L527.3,2227.9 L530.0,2229.3 L532.7,2230.5 L535.4,2231.8 L538.1,2233.0 L540.9,2234.1 L543.6,2235.2 L546.4,2236.2 L549.2,2237.3 L552.0,2238.2 L554.8,2239.1 L557.6,2240.0 L560.4,2240.8 L563.3,2241.6 L566.1,2242.3 L569.0,2243.0 L571.8,2243.7 L574.7,2244.3 L577.6,2244.8 L580.4,2245.3 L583.3,2245.8 L586.2,2246.2 L589.1,2246.5 L592.0,2246.8 L594.9,2247.1 L597.8,2247.3 L600.7,2247.5 L603.6,2247.6 L606.5,2247.7 L609.4,2247.7 L612.3,2247.7 L615.2,2247.7 L618.1,2247.5 L621.0,2247.4 L623.9,2247.2 L626.8,2246.9 L629.7,2246.6 L632.6,2246.3Z" fill="url(#gLip)" stroke="#222" stroke-width="1.1"/>
<path d="M598.0,1753.2 L600.2,1753.2 L602.4,1753.2 L604.6,1753.2 L606.8,1753.2 L609.0,1753.3 L611.2,1753.4 L613.4,1753.5 L615.6,1753.7 L617.8,1753.8 L620.0,1754.0 L622.2,1754.3 L624.4,1754.5 L626.6,1754.8 L628.8,1755.1 L630.9,1755.5 L633.1,1755.8 L635.3,1756.2 L637.5,1756.6 L639.7,1757.1 L641.8,1757.6 L644.0,1758.0 L646.2,1758.6 L648.3,1759.1 L650.5,1759.7 L652.6,1760.3 L654.7,1760.9 L656.9,1761.6 L659.0,1762.3 L661.1,1763.0 L663.3,1763.7 L665.4,1764.5 L667.5,1765.3 L669.6,1766.1 L671.7,1766.9 L673.7,1767.8 L675.8,1768.7 L677.9,1769.6 L679.9,1770.5 L682.0,1771.5 L684.0,1772.5 L686.1,1773.5 L688.1,1774.5 L690.1,1775.6 L692.1,1776.7 L694.1,1777.8 L696.1,1778.9 L698.1,1780.1 L700.0,1781.3 L702.0,1782.5 L703.9,1783.7 L705.9,1785.0 L707.8,1786.3 L709.7,1787.6 L711.6,1788.9 L713.5,1790.3 L715.4,1791.6 L717.2,1793.0 L719.1,1794.5 L720.9,1795.9 L722.7,1797.4 L724.6,1798.9 L726.4,1800.4 L728.1,1801.9 L729.9,1803.5 L731.7,1805.0 L733.4,1806.6 L735.2,1808.2 L736.9,1809.9 L738.6,1811.5 L740.3,1813.2 L741.9,1814.9 L743.6,1816.7 L745.2,1818.4 L746.9,1820.2 L748.5,1821.9 L750.1,1823.7 L751.6,1825.6 L753.2,1827.4 L754.7,1829.3 L756.3,1831.1 L757.8,1833.0 L759.3,1834.9 L760.8,1836.9 L762.2,1838.8 L763.7,1840.8 L765.1,1842.8 L766.5,1844.8 L767.9,1846.8 L769.3,1848.8 L770.6,1850.9 L772.0,1853.0 L773.3,1855.1 L774.6,1857.2 L775.9,1859.3 L777.1,1861.4 L778.4,1863.6 L779.6,1865.7 L780.8,1867.9 L782.0,1870.1 L783.2,1872.3 L784.3,1874.5 L785.4,1876.8 L786.5,1879.0 L787.6,1881.3 L788.7,1883.5 L789.7,1885.8 L790.8,1888.1 L791.8,1890.5 L792.8,1892.8 L793.7,1895.1 L794.7,1897.5 L795.6,1899.8 L796.5,1902.2 L797.4,1904.6 L798.2,1907.0 L799.1,1909.4 L799.9,1911.8 L800.7,1914.2 L801.5,1916.6 L802.2,1919.1 L802.9,1921.5 L803.7,1924.0 L804.3,1926.4 L805.0,1928.9 L805.6,1931.4 L806.3,1933.9 L806.9,1936.4 L807.4,1938.9 L808.0,1941.4 L808.5,1943.9 L809.0,1946.5 L809.5,1949.0 L810.0,1951.5 L810.4,1954.1 L810.9,1956.6 L811.3,1959.2 L811.6,1961.7 L812.0,1964.3 L812.3,1966.8 L812.6,1969.4 L812.9,1972.0 L813.2,1974.5 L813.4,1977.1 L813.6,1979.7 L813.8,1982.3 L814.0,1984.9 L814.1,1987.4 L814.2,1990.0 L814.3,1992.6 L814.4,1995.2 L814.5,1997.8 L814.5,2000.4 L814.5,2003.0 L814.5,2005.6 L814.4,2008.2 L814.4,2010.7 L814.3,2013.3 L814.2,2015.9 L814.1,2018.5 L813.9,2021.1 L813.7,2023.7 L813.5,2026.2 L813.3,2028.8 L813.1,2031.4 L812.8,2033.9 L812.5,2036.5 L812.2,2039.1 L811.8,2041.6 L811.5,2044.2 L811.1,2046.7 L810.7,2049.3 L810.3,2051.8 L809.8,2054.3 L809.3,2056.9 L808.8,2059.4 L808.3,2061.9 L807.8,2064.4 L807.2,2066.9 L806.6,2069.4 L806.0,2071.9 L805.4,2074.3 L804.7,2076.8 L804.1,2079.3 L803.4,2081.7 L802.7,2084.2 L801.9,2086.6 L801.2,2089.0 L800.4,2091.4 L799.6,2093.8 L798.7,2096.2 L797.9,2098.6 L797.0,2101.0 L796.1,2103.3 L795.2,2105.7 L794.3,2108.0 L793.3,2110.3 L792.4,2112.7 L791.4,2115.0 L790.4,2117.2 L789.3,2119.5 L788.3,2121.8 L787.2,2124.0 L786.1,2126.3 L785.0,2128.5 L783.8,2130.7 L782.7,2132.9 L781.5,2135.1 L780.3,2137.2 L779.1,2139.4 L777.9,2141.5 L776.6,2143.6 L775.4,2145.7 L774.1,2147.8 L772.8,2149.9 L771.4,2152.0 L770.1,2154.0 L768.7,2156.0 L767.3,2158.0 L765.9,2160.0 L764.5,2162.0 L763.1,2163.9 L761.6,2165.9 L760.2,2167.8 L758.7,2169.7 L757.2,2171.6 L755.7,2173.4 L754.1,2175.3 L752.6,2177.1 L751.0,2178.9 L749.4,2180.7 L747.8,2182.4 L746.2,2184.2 L744.6,2185.9 L742.9,2187.6 L741.3,2189.3 L739.6,2190.9 L737.9,2192.6 L736.2,2194.2 L734.5,2195.8 L732.7,2197.4 L731.0,2198.9 L729.2,2200.5 L727.4,2202.0 L725.6,2203.5 L723.8,2204.9 L722.0,2206.4 L720.2,2207.8 L718.3,2209.2 L716.5,2210.6 L714.6,2211.9 L712.7,2213.3 L710.8,2214.6 L708.9,2215.9 L707.0,2217.1 L705.1,2218.3 L703.2,2219.6 L701.2,2220.8 L699.3,2221.9 L697.3,2223.1 L695.3,2224.2 L693.3,2225.3 L691.3,2226.3 L689.3,2227.4 L687.3,2228.4 L685.3,2229.4 L683.2,2230.3 L681.2,2231.3 L679.1,2232.2 L677.1,2233.1 L675.0,2234.0 L672.9,2234.8 L670.8,2235.6 L668.7,2236.4 L666.6,2237.2 L664.5,2237.9 L662.4,2238.6 L660.3,2239.3 L658.2,2239.9 L656.0,2240.6 L653.9,2241.2 L651.8,2241.8 L649.6,2242.3 L647.5,2242.8 L645.3,2243.3 L643.1,2243.8 L641.0,2244.3 L638.8,2244.7 L636.6,2245.1 L634.4,2245.4 L632.3,2245.8 L630.1,2246.1 L627.9,2246.4 L625.7,2246.6 L623.5,2246.9 L621.3,2247.1 L619.1,2247.2 L616.9,2247.4 L614.7,2247.5 L612.5,2247.6 L610.3,2247.7" fill="none" stroke="#1a1a1a" stroke-width="1.6"/>
<path d="M591.3,1847.2 C592,1845 597.1,1845.7 598.1,1846 C599.1,1846.3 603.1,1850.2 604,1851 C604.9,1851.8 608.3,1857 609.1,1856.4 C609.9,1855.8 613.2,1844.5 614,1843.5 C614.8,1842.5 617.7,1842.8 618.9,1843.5 C620.1,1844.2 626.6,1850.9 628.8,1852.1 C631,1853.3 643.4,1857.2 646,1858.2 C648.6,1859.2 658.6,1863.9 660.7,1864.4 C662.8,1864.9 670.1,1865 672,1865 C673.9,1865 681.9,1865.2 684,1865 C686.1,1864.8 695.3,1863.3 697.8,1863 C700.3,1862.7 712.2,1861.4 715,1861 C717.8,1860.6 729.4,1854.9 732.2,1858 C735,1861.1 747.4,1892.6 750,1900 C752.6,1907.4 761.8,1943.2 765,1950 C768.2,1956.8 786.8,1981 790,1985 C793.2,1989 805.1,1997.1 805,2000 C804.9,2002.9 790.5,2018.5 789,2021 C787.5,2023.5 787.5,2030.3 786,2031 C784.5,2031.7 769.8,2028.9 770,2030 C770.2,2031.1 788.8,2044.2 788,2045 C787.2,2045.8 761.8,2038.8 760,2040 C758.2,2041.2 765.2,2056.4 765,2060 C764.8,2063.6 759,2084.2 757,2085 C755,2085.8 742.3,2070.2 740,2070 C737.7,2069.8 729.6,2082 728,2082 C726.4,2082 722.1,2069.9 720,2069.4 C717.9,2068.9 703.7,2073.8 701.2,2075.6 C698.7,2077.4 690.4,2089.3 688.9,2091.5 C687.4,2093.7 684.3,2101.3 682.8,2102.6 C681.3,2103.9 672.7,2106.7 670.5,2107.5 C668.3,2108.3 658.2,2112.5 655.8,2112.4 C653.4,2112.3 643,2107.8 641,2106.3 C639,2104.8 632.2,2096.5 631.2,2094 C630.2,2091.5 630.1,2076.6 628.8,2075.6 C627.5,2074.6 617,2081.7 615.3,2081.7 C613.6,2081.7 609,2076.6 607.9,2075.6 C606.8,2074.6 602.4,2071.1 601.7,2069.4 C601,2067.7 599.8,2057.2 599.3,2054.7 C598.8,2052.2 596.7,2041.3 595.6,2038.7 C594.5,2036.1 587.2,2024.5 585.8,2021.6 C584.4,2018.7 579.5,2004.5 578.4,2001.9 C577.3,1999.3 572.9,1992.1 572.3,1989.6 C571.7,1987.1 570.4,1974.2 570.4,1971.2 C570.4,1968.2 571.8,1954.5 572.3,1951.6 C572.8,1948.7 576.5,1937.1 577.2,1934.4 C577.9,1931.7 580.5,1920.9 580.9,1918.4 C581.3,1915.9 581.2,1905.1 582.1,1903.7 C583,1902.3 591.2,1902.5 591.9,1901.2 C592.6,1899.9 590.9,1890 590.7,1887.7 C590.5,1885.4 589.5,1876.2 589.5,1873 C589.5,1869.8 590.6,1849.4 591.3,1847.2Z" fill="url(#gBlob)"/>
<path d="M680,2000 C679.3,1993 686.5,1943.4 688,1930 C689.5,1916.6 692.3,1872.7 694.7,1866 C697.1,1859.3 708.5,1863.4 712,1863 C715.5,1862.6 726,1863.4 729.5,1861.7 C733,1860 743.3,1848.4 746.8,1846 C750.3,1843.6 761.8,1837.1 764.2,1837.4 C766.6,1837.8 769.4,1848.6 771.1,1849.5 C772.8,1850.4 778.8,1847.2 781.6,1846 C784.4,1844.8 795.4,1839 798.9,1837.4 C802.4,1835.8 812.8,1832.1 816.3,1830.4 C819.8,1828.7 829.3,1821.4 833.7,1820 C838.1,1818.6 855.5,1818.2 860.4,1816.2 C865.3,1814.2 878.5,1803.5 883,1800.2 C887.5,1796.9 901.1,1786.3 905.6,1783.3 C910.1,1780.3 924,1772.1 928.1,1770.1 C932.2,1768.1 943.2,1764.2 947,1763.5 C950.8,1762.8 962.8,1762.1 965.8,1762.6 C968.8,1763.1 975.4,1766.3 977.1,1768.2 C978.8,1770.1 982.4,1778.6 982.7,1781.4 C983,1784.2 981,1793 979.9,1796.4 C978.8,1799.8 973.8,1811.5 971.4,1815.3 C969,1819.1 959.8,1830.7 956.4,1834.1 C953,1837.5 941.7,1846.1 937.6,1849.1 C933.5,1852.1 917.5,1861.6 915,1864.2 C912.5,1866.8 914.8,1872.3 913.1,1875.5 C911.4,1878.7 899.3,1893.2 898,1896.2 C896.7,1899.2 902,1901.8 899.9,1905.6 C897.8,1909.4 882,1930 877.1,1934.6 C872.2,1939.2 855.7,1947.8 851,1952 C846.3,1956.2 834.5,1972.1 830.2,1976.3 C825.9,1980.5 813,1991.8 808,1994 C803,1996.2 786.3,1998.1 780,1998 C773.7,1997.9 751.5,1993.8 745,1993 C738.5,1992.2 720,1989.3 715,1990 C710,1990.7 698.5,1999 695,2000 C691.5,2001 680.7,2007 680,2000Z" fill="url(#gFanR)" mask="url(#mFan)"/>
<path d="M690.4,1995.3 L710.4,1974.0 L725.7,1952.7 L707.6,1971.7 Z" fill="#20c0b0" fill-opacity="0.45"/>
<path d="M690.9,1995.7 L711.1,1977.0 L727.0,1957.6 L708.5,1974.5 Z" fill="#20c0b0" fill-opacity="0.45"/>
<path d="M691.3,1996.1 L716.9,1974.2 L736.8,1952.9 L714.4,1971.6 Z" fill="#20c0b0" fill-opacity="0.45"/>
<path d="M691.5,1996.4 L720.2,1973.6 L742.4,1951.7 L717.9,1970.9 Z" fill="#20c0b0" fill-opacity="0.45"/>
<path d="M691.9,1996.8 L720.6,1976.6 L743.1,1956.6 L718.4,1973.7 Z" fill="#20c0b0" fill-opacity="0.45"/>
<path d="M692.2,1997.3 L716.1,1982.8 L735.8,1966.9 L714.1,1979.9 Z" fill="#20c0b0" fill-opacity="0.45"/>
<path d="M692.6,1997.9 L730.7,1977.1 L760.3,1957.3 L728.8,1974.0 Z" fill="#20c0b0" fill-opacity="0.45"/>
<path d="M692.8,1998.3 L720.7,1985.3 L743.7,1970.8 L719.0,1982.1 Z" fill="#20c0b0" fill-opacity="0.45"/>
<path d="M693.1,1998.9 L735.7,1981.8 L769.0,1964.9 L734.3,1978.5 Z" fill="#20c0b0" fill-opacity="0.45"/>
<path d="M693.3,1999.4 L726.0,1988.8 L753.0,1976.5 L724.7,1985.4 Z" fill="#20c0b0" fill-opacity="0.45"/>
<path d="M693.6,2000.1 L731.5,1990.3 L762.3,1979.0 L730.4,1986.9 Z" fill="#28b8d8" fill-opacity="0.45"/>
<path d="M693.7,2000.6 L737.7,1991.4 L772.8,1980.7 L736.9,1987.9 Z" fill="#28b8d8" fill-opacity="0.45"/>
<path d="M693.8,2000.9 L734.0,1993.9 L766.8,1984.9 L733.3,1990.4 Z" fill="#28b8d8" fill-opacity="0.45"/>
<path d="M693.9,2001.5 L751.1,1994.5 L795.3,1985.8 L750.5,1990.9 Z" fill="#28b8d8" fill-opacity="0.45"/>
<path d="M693.9,2002.0 L745.8,1998.5 L786.7,1992.5 L745.5,1994.9 Z" fill="#28b8d8" fill-opacity="0.45"/>
<path d="M694.0,2002.7 L741.0,2003.1 L778.9,2000.1 L740.9,1999.5 Z" fill="#28b8d8" fill-opacity="0.45"/>
<path d="M694.0,2003.2 L733.5,2005.9 L766.5,2004.9 L733.5,2002.3 Z" fill="#28b8d8" fill-opacity="0.45"/>
<path d="M694.0,2003.6 L736.7,2008.0 L772.1,2008.4 L737.0,2004.5 Z" fill="#28b8d8" fill-opacity="0.45"/>
<path d="M693.9,2004.4 L741.5,2012.9 L780.2,2016.4 L742.0,2009.3 Z" fill="#28b8d8" fill-opacity="0.45"/>
<path d="M693.8,2004.8 L735.9,2014.4 L771.0,2019.0 L736.5,2010.8 Z" fill="#3aa8e6" fill-opacity="0.45"/>
<path d="M693.7,2005.4 L728.4,2015.8 L758.7,2021.5 L729.3,2012.4 Z" fill="#3aa8e6" fill-opacity="0.45"/>
<path d="M693.5,2006.1 L736.6,2021.8 L772.5,2031.4 L737.7,2018.3 Z" fill="#3aa8e6" fill-opacity="0.45"/>
<path d="M693.4,2006.4 L733.0,2022.6 L766.7,2032.9 L734.3,2019.3 Z" fill="#3aa8e6" fill-opacity="0.45"/>
<path d="M693.2,2007.0 L738.2,2028.7 L775.6,2043.1 L739.7,2025.4 Z" fill="#3aa8e6" fill-opacity="0.45"/>
<path d="M692.9,2007.6 L724.0,2025.6 L752.0,2038.0 L725.6,2022.4 Z" fill="#3aa8e6" fill-opacity="0.45"/>
<path d="M692.6,2008.1 L718.9,2026.1 L743.8,2038.9 L720.8,2023.0 Z" fill="#3aa8e6" fill-opacity="0.45"/>
<path d="M692.4,2008.5 L730.9,2035.7 L763.9,2054.9 L732.9,2032.7 Z" fill="#3aa8e6" fill-opacity="0.45"/>
<path d="M692.1,2008.8 L724.1,2034.1 L752.7,2052.3 L726.2,2031.1 Z" fill="#3aa8e6" fill-opacity="0.45"/>
<path d="M691.8,2009.2 L725.8,2038.8 L755.6,2060.3 L728.1,2036.0 Z" fill="#3aa8e6" fill-opacity="0.45"/>
<path d="M691.3,2009.9 L721.1,2040.5 L748.0,2063.3 L723.6,2037.9 Z" fill="#3aa8e6" fill-opacity="0.45"/>
<path d="M800,1845 C802.9,1839 822.8,1831.5 830,1828 C837.2,1824.5 854,1819.5 860.4,1816.2 C866.8,1812.9 877.6,1804.1 883,1800.2 C888.4,1796.3 900.2,1786.9 905.6,1783.3 C911,1779.7 923.1,1772.5 928.1,1770.1 C933.1,1767.7 942.5,1764.4 947,1763.5 C951.5,1762.6 962.2,1762 965.8,1762.6 C969.4,1763.2 975.1,1765.9 977.1,1768.2 C979.1,1770.5 982.4,1778 982.7,1781.4 C983,1784.8 981.3,1792.3 979.9,1796.4 C978.5,1800.5 974.2,1810.8 971.4,1815.3 C968.6,1819.8 960.5,1830 956.4,1834.1 C952.3,1838.2 942.6,1845.5 937.6,1849.1 C932.6,1852.7 919.5,1859.9 915,1864.2 C910.5,1868.5 904.4,1880.5 900,1885 C895.6,1889.5 883.8,1899 878,1902 C872.2,1905 858.4,1910.2 852,1910 C845.6,1909.8 830.5,1903.8 825,1900 C819.5,1896.2 809,1884.6 806,1878 C803,1871.4 797.1,1851 800,1845Z" fill="url(#gBeam)"/>
<path d="M844.7,2159.4 L889.8,2187.7 L890.8,2198.9 L877,2199.5 L862,2200.5 L847.2,2201.4 Z" fill="#65645f" stroke="#1a1a1a" stroke-width="1"/>
<path d="M844.7,2159.4 L886.7,2143.2 L907.5,2179.6 L889.8,2187.7 Z" fill="#8a8980" stroke="#1a1a1a" stroke-width="1"/>
<path d="M889.8,2187.7 L905,2194.3 Q911,2200 916,2206 L921.2,2215.1 L927.3,2236 L927.3,2245.5 L932.3,2243.5 L921.2,2215.1 Q913,2202 905,2194.3 M889.8,2187.7 L890.8,2198.9 Q899,2203 906,2207 Q912,2212 916.1,2218.1 L927.3,2245.5 L932.3,2243.5 L921.2,2215.1 Q912,2201 905,2194.3 Z" fill="#5f5e5a" stroke="#1a1a1a" stroke-width="1" stroke-linejoin="round"/>
<path d="M889.8,2187.7 L907.5,2179.6 L920.2,2187.7 L905,2194.3 Z" fill="#8c8b82" stroke="#1a1a1a" stroke-width="1"/>
<path d="M905,2194.3 L920.2,2187.7 Q931,2192 935.4,2199.9 L938.9,2209 L921.2,2215.1 Q914,2203 905,2194.3 Z" fill="#8e8d85" stroke="#1a1a1a" stroke-width="1"/>
<path d="M921.2,2215.1 L938.9,2209 L952.1,2234.9 L932.3,2243.5 Z" fill="#8f8e87" stroke="#1a1a1a" stroke-width="1"/>
<rect x="995.3" y="1645.3" width="101.3" height="388.2" fill="#f0f0f0"/>
<rect x="1065.9" y="1669.9" width="23.1" height="16" fill="rgb(255,20,0)"/>
<rect x="1065.9" y="1685.5" width="23.1" height="11.7" fill="rgb(255,50,0)"/>
<rect x="1065.9" y="1696.8" width="23.1" height="10.8" fill="rgb(255,90,0)"/>
<rect x="1065.9" y="1707.2" width="23.1" height="10.8" fill="rgb(255,120,0)"/>
<rect x="1065.9" y="1717.6" width="23.1" height="10.8" fill="rgb(255,150,0)"/>
<rect x="1065.9" y="1728.1" width="23.1" height="11.7" fill="rgb(255,185,0)"/>
<rect x="1065.9" y="1739.3" width="23.1" height="10.8" fill="rgb(255,220,0)"/>
<rect x="1065.9" y="1749.8" width="23.1" height="10.8" fill="rgb(255,255,0)"/>
<rect x="1065.9" y="1760.2" width="23.1" height="11.7" fill="rgb(230,255,0)"/>
<rect x="1065.9" y="1771.4" width="23.1" height="10.8" fill="rgb(210,255,0)"/>
<rect x="1065.9" y="1781.9" width="23.1" height="10.8" fill="rgb(190,255,0)"/>
<rect x="1065.9" y="1792.3" width="23.1" height="11.7" fill="rgb(160,255,0)"/>
<rect x="1065.9" y="1803.6" width="23.1" height="10.8" fill="rgb(130,255,0)"/>
<rect x="1065.9" y="1814" width="23.1" height="10.8" fill="rgb(90,255,0)"/>
<rect x="1065.9" y="1824.4" width="23.1" height="11.7" fill="rgb(40,255,0)"/>
<rect x="1065.9" y="1835.7" width="23.1" height="10.8" fill="rgb(0,255,0)"/>
<rect x="1065.9" y="1846.1" width="23.1" height="10.8" fill="rgb(0,255,40)"/>
<rect x="1065.9" y="1856.5" width="23.1" height="10.8" fill="rgb(0,255,80)"/>
<rect x="1065.9" y="1866.9" width="23.1" height="11.7" fill="rgb(0,255,120)"/>
<rect x="1065.9" y="1878.2" width="23.1" height="10.8" fill="rgb(0,255,160)"/>
<rect x="1065.9" y="1888.6" width="23.1" height="10.8" fill="rgb(0,255,190)"/>
<rect x="1065.9" y="1899" width="23.1" height="11.7" fill="rgb(0,255,220)"/>
<rect x="1065.9" y="1910.3" width="23.1" height="10.8" fill="rgb(0,255,255)"/>
<rect x="1065.9" y="1920.7" width="23.1" height="10.8" fill="rgb(0,220,255)"/>
<rect x="1065.9" y="1931.1" width="23.1" height="11.7" fill="rgb(0,190,255)"/>
<rect x="1065.9" y="1942.4" width="23.1" height="10.8" fill="rgb(0,160,255)"/>
<rect x="1065.9" y="1952.8" width="23.1" height="10.8" fill="rgb(0,130,255)"/>
<rect x="1065.9" y="1963.2" width="23.1" height="11.7" fill="rgb(0,100,255)"/>
<rect x="1065.9" y="1974.5" width="23.1" height="10.8" fill="rgb(0,70,255)"/>
<rect x="1065.9" y="1984.9" width="23.1" height="10.8" fill="rgb(0,45,255)"/>
<rect x="1065.9" y="1995.3" width="23.1" height="10.8" fill="rgb(0,20,255)"/>
<rect x="1065.9" y="2005.7" width="23.1" height="7.3" fill="rgb(0,0,255)"/>
<rect x="1065.9" y="1669.9" width="23.1" height="342.8" fill="none" stroke="#222" stroke-width="1"/>
<path d="M1061.6,1670.8 H1066" stroke="#222" stroke-width="1.2"/>
<text x="1052.5" y="1676" text-anchor="end" font-family="'Liberation Mono', monospace" font-size="15.5" fill="#222">30.3</text>
<path d="M1061.6,1692.1 H1066" stroke="#222" stroke-width="1.2"/>
<text x="1052.5" y="1697.3" text-anchor="end" font-family="'Liberation Mono', monospace" font-size="15.5" fill="#222">27.8</text>
<path d="M1061.6,1713.4 H1066" stroke="#222" stroke-width="1.2"/>
<text x="1052.5" y="1718.6" text-anchor="end" font-family="'Liberation Mono', monospace" font-size="15.5" fill="#222">25.3</text>
<path d="M1061.6,1734.7 H1066" stroke="#222" stroke-width="1.2"/>
<text x="1052.5" y="1739.9" text-anchor="end" font-family="'Liberation Mono', monospace" font-size="15.5" fill="#222">22.8</text>
<path d="M1061.6,1756 H1066" stroke="#222" stroke-width="1.2"/>
<text x="1052.5" y="1761.2" text-anchor="end" font-family="'Liberation Mono', monospace" font-size="15.5" fill="#222">20.3</text>
<path d="M1061.6,1777.3 H1066" stroke="#222" stroke-width="1.2"/>
<text x="1052.5" y="1782.5" text-anchor="end" font-family="'Liberation Mono', monospace" font-size="15.5" fill="#222">17.8</text>
<path d="M1061.6,1798.7 H1066" stroke="#222" stroke-width="1.2"/>
<text x="1052.5" y="1803.9" text-anchor="end" font-family="'Liberation Mono', monospace" font-size="15.5" fill="#222">15.3</text>
<path d="M1061.6,1820 H1066" stroke="#222" stroke-width="1.2"/>
<text x="1052.5" y="1825.2" text-anchor="end" font-family="'Liberation Mono', monospace" font-size="15.5" fill="#222">12.8</text>
<path d="M1061.6,1841.3 H1066" stroke="#222" stroke-width="1.2"/>
<text x="1052.5" y="1846.5" text-anchor="end" font-family="'Liberation Mono', monospace" font-size="15.5" fill="#222">10.3</text>
<path d="M1061.6,1862.6 H1066" stroke="#222" stroke-width="1.2"/>
<text x="1052.5" y="1867.8" text-anchor="end" font-family="'Liberation Mono', monospace" font-size="15.5" fill="#222">7.79</text>
<path d="M1061.6,1883.9 H1066" stroke="#222" stroke-width="1.2"/>
<text x="1052.5" y="1889.1" text-anchor="end" font-family="'Liberation Mono', monospace" font-size="15.5" fill="#222">5.29</text>
<path d="M1061.6,1905.2 H1066" stroke="#222" stroke-width="1.2"/>
<text x="1052.5" y="1910.4" text-anchor="end" font-family="'Liberation Mono', monospace" font-size="15.5" fill="#222">2.79</text>
<path d="M1061.6,1926.5 H1066" stroke="#222" stroke-width="1.2"/>
<text x="1052.5" y="1931.7" text-anchor="end" font-family="'Liberation Mono', monospace" font-size="15.5" fill="#222">0.292</text>
<path d="M1061.6,1947.8 H1066" stroke="#222" stroke-width="1.2"/>
<text x="1052.5" y="1953" text-anchor="end" font-family="'Liberation Mono', monospace" font-size="15.5" fill="#222">-2.21</text>
<path d="M1061.6,1969.1 H1066" stroke="#222" stroke-width="1.2"/>
<text x="1052.5" y="1974.3" text-anchor="end" font-family="'Liberation Mono', monospace" font-size="15.5" fill="#222">-4.71</text>
<path d="M1061.6,1990.4 H1066" stroke="#222" stroke-width="1.2"/>
<text x="1052.5" y="1995.6" text-anchor="end" font-family="'Liberation Mono', monospace" font-size="15.5" fill="#222">-7.21</text>
<path d="M1061.6,2011.8 H1066" stroke="#222" stroke-width="1.2"/>
<text x="1052.5" y="2017" text-anchor="end" font-family="'Liberation Mono', monospace" font-size="15.5" fill="#222">-9.71</text>
<text x="1049.4" y="1658" text-anchor="middle" font-family="'Liberation Mono', monospace" font-size="15" fill="#222">dBi</text>
</svg>
</body></html>
